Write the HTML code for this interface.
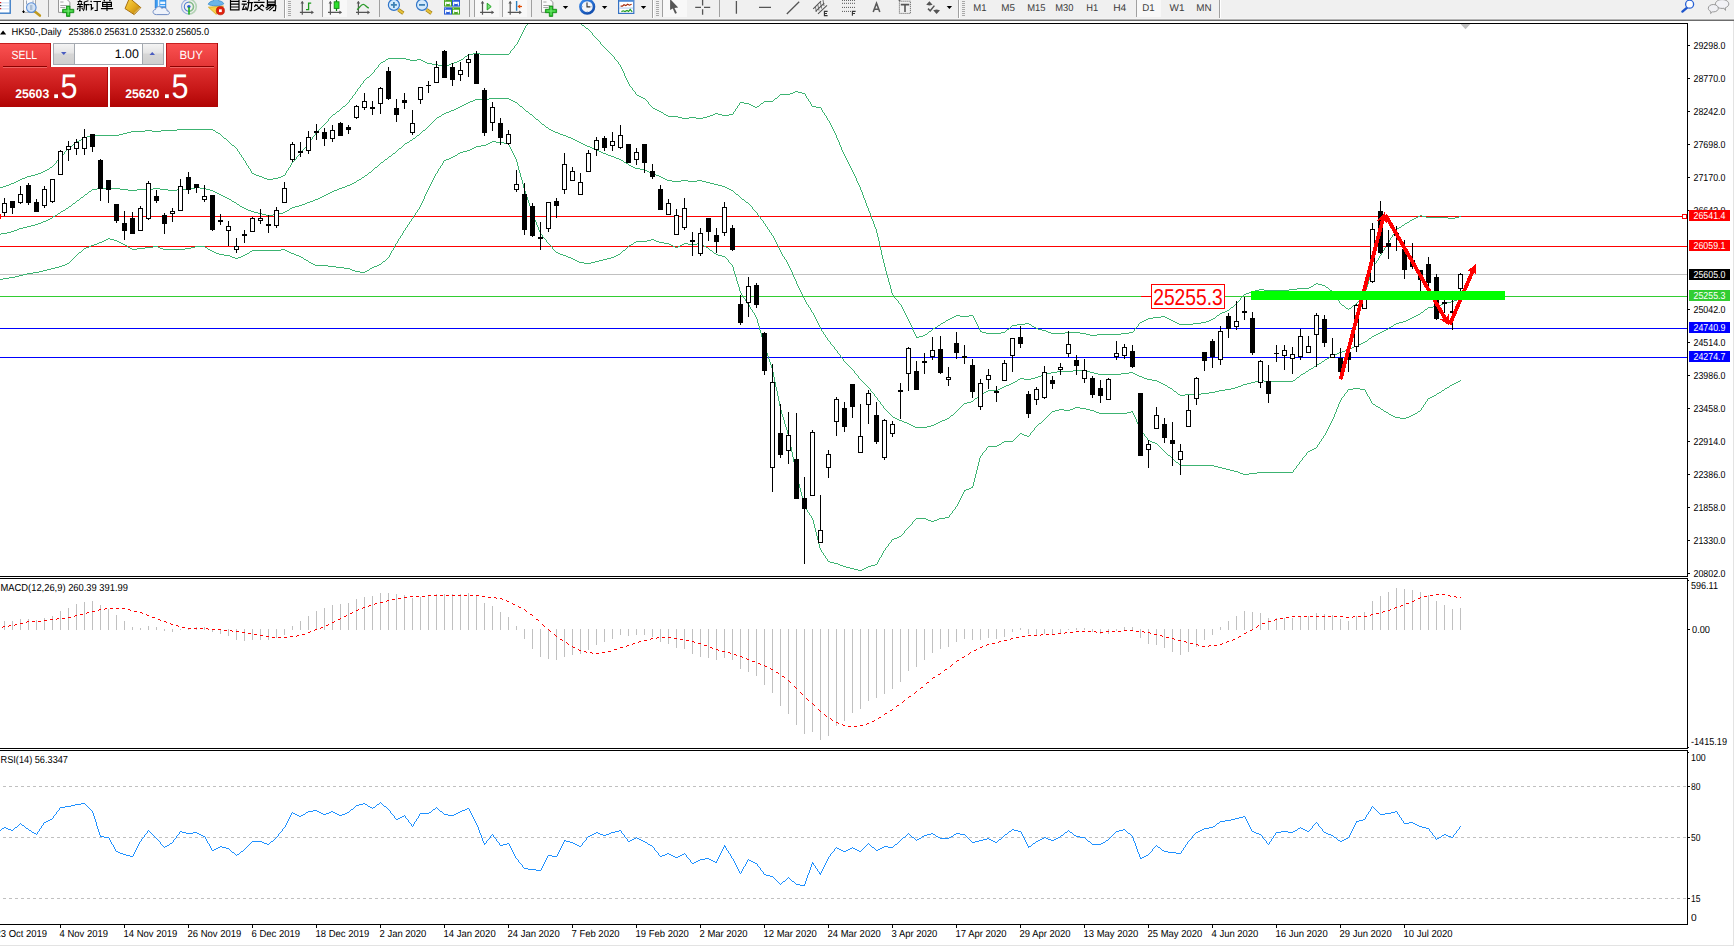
<!DOCTYPE html>
<html><head><meta charset="utf-8"><title>HK50 Daily</title>
<style>
html,body{margin:0;padding:0;background:#fff;}
body{width:1734px;height:946px;overflow:hidden;font-family:"Liberation Sans", sans-serif;}
svg{display:block;position:absolute;left:0;top:0;font-family:"Liberation Sans", sans-serif;text-rendering:geometricPrecision;}
</style></head><body>
<svg width="1734" height="946" viewBox="0 0 1734 946">
<rect width="1734" height="946" fill="#fff"/>

<g shape-rendering="crispEdges">
<rect x="0" y="0" width="1734" height="18" fill="#f0f0f0"/>
<rect x="0" y="18" width="1734" height="1" fill="#f4f4f4"/>
<rect x="0" y="19" width="1734" height="1" fill="#b4b4b4"/>
<rect x="0" y="20" width="1734" height="1" fill="#6c6c6c"/>
<rect x="0" y="23" width="1688" height="1" fill="#000"/>
<rect x="1687" y="23" width="1" height="902" fill="#000"/>
<rect x="0" y="924" width="1688" height="1" fill="#000"/>
<rect x="1733" y="21" width="1" height="925" fill="#e3e3e3"/>
<rect x="0" y="945" width="1734" height="1" fill="#e3e3e3"/>
<rect x="0" y="576" width="1688" height="1" fill="#000"/>
<rect x="0" y="578" width="1688" height="1" fill="#000"/>
<rect x="0" y="748" width="1688" height="1" fill="#000"/>
<rect x="0" y="750" width="1688" height="1" fill="#000"/>
<rect x="1687" y="577" width="1" height="1" fill="#fff"/>
<rect x="1687" y="749" width="1" height="1" fill="#fff"/>
<rect x="1688" y="580" width="1" height="1" fill="#000"/>
<rect x="1688" y="747" width="1" height="1" fill="#000"/>
<rect x="1688" y="752" width="1" height="1" fill="#000"/>
</g>
<g shape-rendering="crispEdges">
<rect x="0" y="216" width="1687" height="1" fill="#ff0000"/>
<rect x="0" y="246" width="1687" height="1" fill="#ff0000"/>
<rect x="0" y="274" width="1687" height="1" fill="#c0c0c0"/>
<rect x="0" y="296" width="1687" height="1" fill="#32cd32"/>
<rect x="0" y="328" width="1687" height="1" fill="#0000ff"/>
<rect x="0" y="357" width="1687" height="1" fill="#0000ff"/>
</g>
<clipPath id="mainclip"><rect x="0" y="24" width="1687" height="552"/></clipPath><g clip-path="url(#mainclip)">
<path d="M527 24h1v1h-1zM581 24h1v1h-1zM526 25h1v1h-1zM582 25h2v1h-2zM525 26h1v2h-1zM584 26h1v1h-1zM585 27h1v1h-1zM524 28h1v2h-1zM586 28h2v1h-2zM588 29h1v1h-1zM523 30h1v2h-1zM589 30h1v1h-1zM590 31h1v1h-1zM522 32h1v2h-1zM591 32h1v1h-1zM592 33h1v2h-1zM521 34h1v2h-1zM593 35h1v1h-1zM520 36h1v2h-1zM594 36h1v1h-1zM595 37h1v1h-1zM519 38h1v2h-1zM596 38h1v1h-1zM597 39h1v1h-1zM518 40h1v2h-1zM598 40h1v1h-1zM599 41h1v1h-1zM517 42h1v2h-1zM600 42h1v2h-1zM516 44h1v1h-1zM601 44h1v1h-1zM515 45h1v1h-1zM602 45h1v1h-1zM514 46h1v2h-1zM603 46h1v1h-1zM604 47h1v1h-1zM513 48h1v1h-1zM605 48h1v1h-1zM512 49h1v1h-1zM606 49h1v1h-1zM511 50h1v1h-1zM607 50h1v1h-1zM510 51h1v2h-1zM608 51h1v1h-1zM609 52h1v1h-1zM473 53h7v1h-7zM509 53h1v1h-1zM610 53h1v1h-1zM468 54h5v1h-5zM480 54h29v1h-29zM611 54h1v1h-1zM467 55h1v1h-1zM612 55h1v1h-1zM465 56h2v1h-2zM613 56h1v1h-1zM464 57h1v1h-1zM614 57h1v2h-1zM388 58h18v1h-18zM463 58h1v1h-1zM386 59h2v1h-2zM406 59h4v1h-4zM417 59h4v1h-4zM461 59h2v1h-2zM615 59h1v1h-1zM385 60h1v1h-1zM410 60h7v1h-7zM421 60h2v1h-2zM459 60h2v1h-2zM616 60h1v1h-1zM383 61h2v1h-2zM423 61h2v1h-2zM457 61h2v1h-2zM617 61h1v1h-1zM381 62h2v1h-2zM425 62h2v1h-2zM454 62h3v1h-3zM618 62h1v2h-1zM380 63h1v1h-1zM427 63h5v1h-5zM451 63h3v1h-3zM379 64h1v1h-1zM432 64h6v1h-6zM449 64h2v1h-2zM619 64h1v1h-1zM378 65h1v2h-1zM438 65h4v1h-4zM446 65h3v1h-3zM620 65h1v2h-1zM442 66h4v1h-4zM377 67h1v1h-1zM621 67h1v2h-1zM376 68h1v1h-1zM375 69h1v1h-1zM622 69h1v2h-1zM374 70h1v2h-1zM623 71h1v2h-1zM373 72h1v1h-1zM372 73h1v1h-1zM624 73h1v3h-1zM371 74h1v1h-1zM370 75h1v1h-1zM369 76h1v1h-1zM625 76h1v2h-1zM367 77h2v1h-2zM366 78h1v1h-1zM626 78h1v2h-1zM365 79h1v1h-1zM364 80h1v1h-1zM627 80h1v2h-1zM363 81h1v2h-1zM628 82h1v2h-1zM362 83h1v1h-1zM361 84h1v1h-1zM629 84h1v2h-1zM360 85h1v2h-1zM630 86h1v1h-1zM359 87h1v1h-1zM631 87h1v1h-1zM358 88h1v1h-1zM632 88h1v2h-1zM357 89h1v2h-1zM633 90h1v1h-1zM356 91h1v1h-1zM634 91h1v1h-1zM795 91h3v1h-3zM355 92h1v2h-1zM635 92h1v2h-1zM793 92h2v1h-2zM798 92h4v1h-4zM790 93h3v1h-3zM802 93h3v1h-3zM354 94h1v1h-1zM636 94h1v1h-1zM780 94h10v1h-10zM805 94h1v2h-1zM353 95h1v1h-1zM637 95h2v1h-2zM779 95h1v1h-1zM352 96h1v2h-1zM639 96h2v1h-2zM778 96h1v1h-1zM806 96h1v2h-1zM641 97h2v1h-2zM777 97h1v1h-1zM351 98h1v1h-1zM643 98h2v1h-2zM775 98h2v1h-2zM807 98h1v1h-1zM350 99h1v1h-1zM645 99h1v1h-1zM774 99h1v1h-1zM808 99h1v2h-1zM349 100h1v2h-1zM646 100h1v1h-1zM773 100h1v1h-1zM647 101h1v1h-1zM764 101h9v1h-9zM809 101h1v1h-1zM348 102h1v1h-1zM648 102h1v2h-1zM740 102h4v1h-4zM763 102h1v1h-1zM810 102h1v2h-1zM347 103h1v1h-1zM739 103h1v2h-1zM744 103h5v1h-5zM761 103h2v1h-2zM346 104h1v1h-1zM649 104h1v1h-1zM749 104h2v1h-2zM760 104h1v1h-1zM811 104h1v2h-1zM345 105h1v1h-1zM650 105h1v1h-1zM738 105h1v1h-1zM751 105h2v1h-2zM759 105h1v1h-1zM343 106h2v1h-2zM651 106h1v1h-1zM737 106h1v2h-1zM753 106h2v1h-2zM757 106h2v1h-2zM812 106h4v1h-4zM342 107h1v1h-1zM652 107h1v1h-1zM755 107h2v1h-2zM816 107h5v1h-5zM341 108h1v1h-1zM653 108h2v1h-2zM736 108h1v1h-1zM821 108h1v2h-1zM340 109h1v1h-1zM655 109h2v1h-2zM735 109h1v2h-1zM339 110h1v1h-1zM657 110h2v1h-2zM822 110h1v2h-1zM337 111h2v1h-2zM659 111h2v1h-2zM734 111h1v1h-1zM336 112h1v1h-1zM661 112h2v1h-2zM733 112h1v2h-1zM823 112h1v1h-1zM335 113h1v1h-1zM663 113h1v1h-1zM715 113h3v1h-3zM824 113h1v2h-1zM333 114h2v1h-2zM664 114h2v1h-2zM713 114h2v1h-2zM718 114h4v1h-4zM729 114h4v1h-4zM332 115h1v1h-1zM666 115h2v1h-2zM710 115h3v1h-3zM722 115h7v1h-7zM825 115h1v1h-1zM331 116h1v1h-1zM668 116h10v1h-10zM707 116h3v1h-3zM826 116h1v2h-1zM330 117h1v1h-1zM678 117h4v1h-4zM689 117h7v1h-7zM703 117h4v1h-4zM329 118h1v1h-1zM682 118h7v1h-7zM696 118h7v1h-7zM827 118h1v2h-1zM328 119h1v2h-1zM828 120h1v1h-1zM327 121h1v1h-1zM829 121h1v2h-1zM326 122h1v1h-1zM325 123h1v1h-1zM830 123h1v2h-1zM324 124h1v1h-1zM323 125h1v1h-1zM831 125h1v2h-1zM322 126h1v1h-1zM321 127h1v1h-1zM832 127h1v2h-1zM320 128h1v1h-1zM177 129h36v1h-36zM319 129h1v1h-1zM833 129h1v2h-1zM145 130h7v1h-7zM161 130h16v1h-16zM213 130h2v1h-2zM318 130h1v1h-1zM131 131h14v1h-14zM152 131h9v1h-9zM215 131h1v1h-1zM317 131h1v1h-1zM834 131h1v2h-1zM127 132h4v1h-4zM216 132h2v1h-2zM316 132h1v1h-1zM123 133h4v1h-4zM218 133h2v1h-2zM315 133h1v2h-1zM835 133h1v2h-1zM119 134h4v1h-4zM220 134h1v1h-1zM91 135h28v1h-28zM221 135h1v1h-1zM314 135h1v1h-1zM836 135h1v3h-1zM87 136h4v1h-4zM222 136h1v1h-1zM313 136h1v1h-1zM84 137h3v1h-3zM223 137h1v1h-1zM312 137h1v2h-1zM82 138h2v1h-2zM224 138h2v1h-2zM837 138h1v2h-1zM81 139h1v1h-1zM226 139h1v1h-1zM311 139h1v1h-1zM79 140h2v1h-2zM227 140h1v1h-1zM310 140h1v1h-1zM838 140h1v2h-1zM77 141h2v1h-2zM228 141h1v1h-1zM309 141h1v2h-1zM76 142h1v1h-1zM229 142h1v1h-1zM839 142h1v3h-1zM75 143h1v1h-1zM230 143h1v1h-1zM308 143h1v1h-1zM73 144h2v1h-2zM231 144h1v1h-1zM307 144h1v1h-1zM72 145h1v1h-1zM232 145h2v1h-2zM306 145h1v2h-1zM840 145h1v2h-1zM71 146h1v1h-1zM234 146h1v1h-1zM69 147h2v1h-2zM235 147h1v1h-1zM305 147h1v1h-1zM841 147h1v3h-1zM68 148h1v1h-1zM236 148h1v1h-1zM304 148h1v1h-1zM67 149h1v1h-1zM237 149h1v2h-1zM303 149h1v1h-1zM66 150h1v1h-1zM302 150h1v2h-1zM842 150h1v2h-1zM65 151h1v1h-1zM238 151h1v1h-1zM64 152h1v2h-1zM239 152h1v2h-1zM301 152h1v1h-1zM843 152h1v2h-1zM300 153h1v1h-1zM63 154h1v1h-1zM240 154h1v1h-1zM299 154h1v1h-1zM844 154h1v2h-1zM62 155h1v1h-1zM241 155h1v2h-1zM298 155h1v1h-1zM61 156h1v1h-1zM297 156h1v1h-1zM845 156h1v2h-1zM60 157h1v1h-1zM242 157h1v1h-1zM296 157h1v2h-1zM59 158h1v1h-1zM243 158h1v2h-1zM846 158h1v2h-1zM58 159h1v1h-1zM295 159h1v1h-1zM57 160h1v1h-1zM244 160h1v1h-1zM294 160h1v1h-1zM847 160h1v2h-1zM56 161h1v2h-1zM245 161h1v2h-1zM293 161h1v1h-1zM292 162h1v1h-1zM848 162h1v2h-1zM55 163h1v1h-1zM246 163h1v2h-1zM291 163h1v2h-1zM54 164h1v1h-1zM849 164h1v2h-1zM53 165h1v1h-1zM247 165h1v1h-1zM290 165h1v2h-1zM52 166h1v1h-1zM248 166h1v2h-1zM850 166h1v2h-1zM50 167h2v1h-2zM289 167h1v1h-1zM49 168h1v1h-1zM249 168h1v1h-1zM288 168h1v2h-1zM851 168h1v2h-1zM47 169h2v1h-2zM250 169h1v2h-1zM45 170h2v1h-2zM287 170h1v1h-1zM852 170h1v2h-1zM43 171h2v1h-2zM251 171h1v2h-1zM286 171h1v2h-1zM41 172h2v1h-2zM853 172h1v2h-1zM38 173h3v1h-3zM252 173h2v1h-2zM285 173h1v2h-1zM35 174h3v1h-3zM254 174h2v1h-2zM854 174h1v2h-1zM31 175h4v1h-4zM256 175h3v1h-3zM283 175h2v1h-2zM27 176h4v1h-4zM259 176h3v1h-3zM281 176h2v1h-2zM855 176h1v2h-1zM25 177h2v1h-2zM262 177h2v1h-2zM278 177h3v1h-3zM22 178h3v1h-3zM264 178h3v1h-3zM273 178h5v1h-5zM856 178h1v3h-1zM20 179h2v1h-2zM267 179h6v1h-6zM18 180h2v1h-2zM16 181h2v1h-2zM857 181h1v2h-1zM14 182h2v1h-2zM11 183h3v1h-3zM858 183h1v2h-1zM9 184h2v1h-2zM6 185h3v1h-3zM859 185h1v2h-1zM3 186h3v1h-3zM0 187h3v1h-3zM860 187h1v3h-1zM861 190h1v2h-1zM862 192h1v3h-1zM863 195h1v3h-1zM864 198h1v2h-1zM865 200h1v3h-1zM866 203h1v3h-1zM867 206h1v2h-1zM868 208h1v3h-1zM869 211h1v2h-1zM870 213h1v3h-1zM1420 215h2v1h-2zM871 216h1v3h-1zM1418 216h2v1h-2zM1422 216h4v1h-4zM1459 216h2v1h-2zM1416 217h2v1h-2zM1426 217h22v1h-22zM1455 217h4v1h-4zM1414 218h2v1h-2zM1448 218h7v1h-7zM872 219h1v2h-1zM1412 219h2v1h-2zM1410 220h2v1h-2zM873 221h1v3h-1zM1409 221h1v1h-1zM1407 222h2v1h-2zM1405 223h2v1h-2zM874 224h1v3h-1zM1404 224h1v1h-1zM1402 225h2v1h-2zM1401 226h1v1h-1zM875 227h1v2h-1zM1399 227h2v1h-2zM1397 228h2v1h-2zM876 229h1v4h-1zM1396 229h1v1h-1zM1395 230h1v2h-1zM1394 232h1v2h-1zM877 233h1v4h-1zM1393 234h1v1h-1zM1392 235h1v2h-1zM878 237h1v4h-1zM1391 237h1v1h-1zM1390 238h1v2h-1zM1389 240h1v2h-1zM879 241h1v5h-1zM1388 242h1v1h-1zM1387 243h1v2h-1zM1386 245h1v2h-1zM880 246h1v4h-1zM1385 247h1v1h-1zM1384 248h1v2h-1zM881 250h1v5h-1zM1383 250h1v1h-1zM1382 251h1v2h-1zM1381 253h1v2h-1zM882 255h1v4h-1zM1380 255h1v1h-1zM1379 256h1v2h-1zM1378 258h1v2h-1zM883 259h1v4h-1zM1377 260h1v1h-1zM1376 261h1v2h-1zM884 263h1v4h-1zM1375 263h1v1h-1zM1374 264h1v2h-1zM1373 266h1v2h-1zM885 267h1v4h-1zM1372 268h1v2h-1zM1371 270h1v4h-1zM886 271h1v4h-1zM1370 274h1v3h-1zM887 275h1v3h-1zM1369 277h1v3h-1zM888 278h1v4h-1zM1368 280h1v4h-1zM889 282h1v3h-1zM1316 283h2v1h-2zM1314 284h2v1h-2zM1318 284h4v1h-4zM1367 284h1v3h-1zM890 285h1v4h-1zM1313 285h1v1h-1zM1322 285h3v1h-3zM1311 286h2v1h-2zM1325 286h1v1h-1zM1309 287h2v1h-2zM1326 287h2v1h-2zM1366 287h1v3h-1zM1297 288h12v1h-12zM1328 288h1v1h-1zM891 289h1v4h-1zM1259 289h5v1h-5zM1289 289h8v1h-8zM1329 289h1v1h-1zM1255 290h4v1h-4zM1264 290h25v1h-25zM1330 290h2v1h-2zM1365 290h1v4h-1zM1251 291h4v1h-4zM1332 291h1v1h-1zM1249 292h2v1h-2zM1333 292h1v2h-1zM892 293h1v2h-1zM1246 293h3v1h-3zM1244 294h2v1h-2zM1334 294h1v1h-1zM1364 294h1v2h-1zM893 295h1v1h-1zM1243 295h1v1h-1zM1335 295h1v2h-1zM894 296h1v2h-1zM1242 296h1v1h-1zM1363 296h1v1h-1zM1241 297h1v1h-1zM1336 297h1v1h-1zM1362 297h1v1h-1zM895 298h1v1h-1zM1240 298h1v2h-1zM1337 298h1v2h-1zM1361 298h1v1h-1zM896 299h1v1h-1zM1360 299h1v1h-1zM897 300h1v1h-1zM1239 300h1v1h-1zM1338 300h1v1h-1zM1359 300h1v1h-1zM898 301h1v2h-1zM1238 301h1v1h-1zM1339 301h1v2h-1zM1358 301h1v1h-1zM1237 302h1v1h-1zM1357 302h1v1h-1zM899 303h1v1h-1zM1236 303h1v1h-1zM1340 303h1v1h-1zM1356 303h1v1h-1zM900 304h1v1h-1zM1235 304h1v1h-1zM1341 304h1v1h-1zM1355 304h1v1h-1zM901 305h1v2h-1zM1234 305h1v1h-1zM1342 305h2v1h-2zM1353 305h2v1h-2zM1233 306h1v1h-1zM1344 306h1v1h-1zM1352 306h1v1h-1zM902 307h1v2h-1zM1231 307h2v1h-2zM1345 307h1v1h-1zM1351 307h1v1h-1zM1230 308h1v1h-1zM1346 308h2v1h-2zM1349 308h2v1h-2zM903 309h1v2h-1zM1229 309h1v1h-1zM1348 309h1v1h-1zM1227 310h2v1h-2zM904 311h1v2h-1zM1225 311h2v1h-2zM1222 312h3v1h-3zM905 313h1v2h-1zM1220 313h2v1h-2zM1219 314h1v1h-1zM906 315h1v2h-1zM956 315h4v1h-4zM969 315h4v1h-4zM1217 315h2v1h-2zM954 316h2v1h-2zM960 316h9v1h-9zM973 316h1v2h-1zM1161 316h4v1h-4zM1216 316h1v1h-1zM907 317h1v2h-1zM952 317h2v1h-2zM1153 317h8v1h-8zM1165 317h2v1h-2zM1215 317h1v1h-1zM950 318h2v1h-2zM974 318h1v2h-1zM1148 318h5v1h-5zM1167 318h2v1h-2zM1213 318h2v1h-2zM908 319h1v2h-1zM948 319h2v1h-2zM1146 319h2v1h-2zM1169 319h2v1h-2zM1211 319h2v1h-2zM946 320h2v1h-2zM975 320h1v2h-1zM1144 320h2v1h-2zM1171 320h2v1h-2zM1209 320h2v1h-2zM909 321h1v2h-1zM945 321h1v1h-1zM1142 321h2v1h-2zM1173 321h2v1h-2zM1206 321h3v1h-3zM943 322h2v1h-2zM976 322h1v2h-1zM1140 322h2v1h-2zM1175 322h2v1h-2zM1201 322h5v1h-5zM910 323h1v2h-1zM941 323h2v1h-2zM1025 323h4v1h-4zM1139 323h1v1h-1zM1177 323h2v1h-2zM1193 323h8v1h-8zM940 324h1v1h-1zM977 324h1v2h-1zM1017 324h8v1h-8zM1029 324h2v1h-2zM1138 324h1v2h-1zM1179 324h14v1h-14zM911 325h1v2h-1zM938 325h2v1h-2zM1012 325h5v1h-5zM1031 325h1v1h-1zM937 326h1v1h-1zM978 326h1v2h-1zM1011 326h1v1h-1zM1032 326h2v1h-2zM1137 326h1v1h-1zM912 327h1v3h-1zM935 327h2v1h-2zM1010 327h1v1h-1zM1034 327h2v1h-2zM1136 327h1v1h-1zM933 328h2v1h-2zM979 328h1v2h-1zM1009 328h1v1h-1zM1036 328h2v1h-2zM1135 328h1v1h-1zM932 329h1v1h-1zM1007 329h2v1h-2zM1038 329h4v1h-4zM1134 329h1v2h-1zM913 330h1v2h-1zM931 330h1v1h-1zM980 330h1v2h-1zM1006 330h1v1h-1zM1042 330h4v1h-4zM929 331h2v1h-2zM981 331h1v1h-1zM1005 331h1v1h-1zM1046 331h2v1h-2zM1133 331h1v1h-1zM914 332h1v2h-1zM928 332h1v1h-1zM982 332h4v1h-4zM1001 332h4v1h-4zM1048 332h3v1h-3zM1065 332h15v1h-15zM1129 332h4v1h-4zM927 333h1v1h-1zM986 333h15v1h-15zM1051 333h14v1h-14zM1080 333h6v1h-6zM1121 333h8v1h-8zM915 334h1v2h-1zM925 334h2v1h-2zM1086 334h4v1h-4zM1097 334h24v1h-24zM923 335h2v1h-2zM1090 335h7v1h-7zM916 336h1v2h-1zM919 336h4v1h-4zM917 337h2v1h-2z" fill="#3cb371" shape-rendering="crispEdges"/>
<path d="M489 98h20v1h-20zM475 99h14v1h-14zM509 99h2v1h-2zM473 100h2v1h-2zM511 100h2v1h-2zM470 101h3v1h-3zM513 101h2v1h-2zM468 102h2v1h-2zM515 102h2v1h-2zM466 103h2v1h-2zM517 103h1v1h-1zM464 104h2v1h-2zM518 104h1v1h-1zM462 105h2v1h-2zM519 105h1v1h-1zM460 106h2v1h-2zM520 106h2v1h-2zM458 107h2v1h-2zM522 107h1v1h-1zM456 108h2v1h-2zM523 108h1v1h-1zM454 109h2v1h-2zM524 109h1v1h-1zM451 110h3v1h-3zM525 110h1v1h-1zM449 111h2v1h-2zM526 111h2v1h-2zM446 112h3v1h-3zM528 112h1v1h-1zM444 113h2v1h-2zM529 113h1v1h-1zM442 114h2v1h-2zM530 114h2v1h-2zM441 115h1v1h-1zM532 115h1v1h-1zM439 116h2v1h-2zM533 116h1v1h-1zM437 117h2v1h-2zM534 117h1v1h-1zM436 118h1v1h-1zM535 118h1v1h-1zM435 119h1v1h-1zM536 119h2v1h-2zM434 120h1v1h-1zM538 120h1v1h-1zM433 121h1v1h-1zM539 121h1v1h-1zM432 122h1v1h-1zM540 122h1v1h-1zM431 123h1v1h-1zM541 123h1v1h-1zM430 124h1v1h-1zM542 124h2v1h-2zM429 125h1v1h-1zM544 125h1v1h-1zM428 126h1v1h-1zM545 126h1v1h-1zM427 127h1v1h-1zM546 127h2v1h-2zM426 128h1v1h-1zM548 128h1v1h-1zM425 129h1v1h-1zM549 129h2v1h-2zM423 130h2v1h-2zM551 130h2v1h-2zM422 131h1v1h-1zM553 131h2v1h-2zM421 132h1v1h-1zM555 132h3v1h-3zM420 133h1v1h-1zM558 133h2v1h-2zM419 134h1v1h-1zM560 134h3v1h-3zM417 135h2v1h-2zM563 135h3v1h-3zM416 136h1v1h-1zM566 136h2v1h-2zM415 137h1v1h-1zM568 137h3v1h-3zM413 138h2v1h-2zM571 138h2v1h-2zM412 139h1v1h-1zM573 139h2v1h-2zM410 140h2v1h-2zM575 140h2v1h-2zM409 141h1v1h-1zM577 141h2v1h-2zM407 142h2v1h-2zM579 142h2v1h-2zM405 143h2v1h-2zM581 143h2v1h-2zM404 144h1v1h-1zM583 144h2v1h-2zM403 145h1v1h-1zM585 145h2v1h-2zM402 146h1v1h-1zM587 146h3v1h-3zM401 147h1v1h-1zM590 147h2v1h-2zM399 148h2v1h-2zM592 148h3v1h-3zM398 149h1v1h-1zM595 149h2v1h-2zM397 150h1v1h-1zM597 150h2v1h-2zM396 151h1v1h-1zM599 151h2v1h-2zM395 152h1v1h-1zM601 152h2v1h-2zM393 153h2v1h-2zM603 153h3v1h-3zM392 154h1v1h-1zM606 154h2v1h-2zM391 155h1v1h-1zM608 155h3v1h-3zM389 156h2v1h-2zM611 156h3v1h-3zM388 157h1v1h-1zM614 157h2v1h-2zM387 158h1v1h-1zM616 158h3v1h-3zM385 159h2v1h-2zM619 159h2v1h-2zM384 160h1v1h-1zM621 160h2v1h-2zM383 161h1v1h-1zM623 161h1v1h-1zM381 162h2v1h-2zM624 162h2v1h-2zM380 163h1v1h-1zM626 163h2v1h-2zM379 164h1v1h-1zM628 164h1v1h-1zM378 165h1v1h-1zM629 165h2v1h-2zM377 166h1v1h-1zM631 166h2v1h-2zM375 167h2v1h-2zM633 167h2v1h-2zM374 168h1v1h-1zM635 168h5v1h-5zM373 169h1v1h-1zM640 169h5v1h-5zM372 170h1v1h-1zM645 170h2v1h-2zM371 171h1v1h-1zM647 171h2v1h-2zM369 172h2v1h-2zM649 172h2v1h-2zM368 173h1v1h-1zM651 173h3v1h-3zM367 174h1v1h-1zM654 174h2v1h-2zM365 175h2v1h-2zM656 175h3v1h-3zM364 176h1v1h-1zM659 176h2v1h-2zM362 177h2v1h-2zM661 177h2v1h-2zM361 178h1v1h-1zM663 178h2v1h-2zM359 179h2v1h-2zM665 179h2v1h-2zM357 180h2v1h-2zM667 180h5v1h-5zM681 180h7v1h-7zM697 180h5v1h-5zM356 181h1v1h-1zM672 181h9v1h-9zM688 181h9v1h-9zM702 181h4v1h-4zM354 182h2v1h-2zM706 182h4v1h-4zM352 183h2v1h-2zM710 183h4v1h-4zM350 184h2v1h-2zM714 184h4v1h-4zM347 185h3v1h-3zM718 185h4v1h-4zM345 186h2v1h-2zM722 186h3v1h-3zM195 187h5v1h-5zM342 187h3v1h-3zM725 187h2v1h-2zM97 188h23v1h-23zM153 188h7v1h-7zM191 188h4v1h-4zM200 188h6v1h-6zM339 188h3v1h-3zM727 188h2v1h-2zM92 189h5v1h-5zM120 189h8v1h-8zM137 189h16v1h-16zM160 189h8v1h-8zM177 189h14v1h-14zM206 189h4v1h-4zM337 189h2v1h-2zM729 189h2v1h-2zM91 190h1v1h-1zM128 190h9v1h-9zM168 190h9v1h-9zM210 190h3v1h-3zM334 190h3v1h-3zM731 190h2v1h-2zM89 191h2v1h-2zM213 191h2v1h-2zM332 191h2v1h-2zM733 191h1v1h-1zM88 192h1v1h-1zM215 192h2v1h-2zM330 192h2v1h-2zM734 192h1v1h-1zM87 193h1v1h-1zM217 193h2v1h-2zM328 193h2v1h-2zM735 193h1v1h-1zM85 194h2v1h-2zM219 194h2v1h-2zM326 194h2v1h-2zM736 194h2v1h-2zM84 195h1v1h-1zM221 195h2v1h-2zM324 195h2v1h-2zM738 195h1v1h-1zM83 196h1v1h-1zM223 196h2v1h-2zM322 196h2v1h-2zM739 196h1v1h-1zM81 197h2v1h-2zM225 197h2v1h-2zM320 197h2v1h-2zM740 197h1v1h-1zM80 198h1v1h-1zM227 198h2v1h-2zM318 198h2v1h-2zM741 198h1v1h-1zM79 199h1v1h-1zM229 199h2v1h-2zM315 199h3v1h-3zM742 199h2v1h-2zM77 200h2v1h-2zM231 200h1v1h-1zM313 200h2v1h-2zM744 200h1v1h-1zM76 201h1v1h-1zM232 201h2v1h-2zM310 201h3v1h-3zM745 201h1v1h-1zM75 202h1v1h-1zM234 202h2v1h-2zM307 202h3v1h-3zM746 202h2v1h-2zM73 203h2v1h-2zM236 203h1v1h-1zM305 203h2v1h-2zM748 203h1v1h-1zM72 204h1v1h-1zM237 204h2v1h-2zM302 204h3v1h-3zM749 204h1v1h-1zM71 205h1v1h-1zM239 205h1v1h-1zM299 205h3v1h-3zM750 205h1v1h-1zM69 206h2v1h-2zM240 206h2v1h-2zM295 206h4v1h-4zM751 206h1v1h-1zM68 207h1v1h-1zM242 207h2v1h-2zM292 207h3v1h-3zM752 207h1v2h-1zM66 208h2v1h-2zM244 208h2v1h-2zM290 208h2v1h-2zM65 209h1v1h-1zM246 209h2v1h-2zM289 209h1v1h-1zM753 209h1v1h-1zM63 210h2v1h-2zM248 210h3v1h-3zM287 210h2v1h-2zM754 210h1v1h-1zM61 211h2v1h-2zM251 211h3v1h-3zM285 211h2v1h-2zM755 211h1v1h-1zM60 212h1v1h-1zM254 212h4v1h-4zM283 212h2v1h-2zM756 212h1v1h-1zM58 213h2v1h-2zM258 213h4v1h-4zM279 213h4v1h-4zM757 213h1v2h-1zM57 214h1v1h-1zM262 214h4v1h-4zM273 214h6v1h-6zM55 215h2v1h-2zM266 215h7v1h-7zM758 215h1v1h-1zM53 216h2v1h-2zM759 216h1v1h-1zM52 217h1v1h-1zM760 217h1v2h-1zM50 218h2v1h-2zM48 219h2v1h-2zM761 219h1v1h-1zM46 220h2v1h-2zM762 220h1v1h-1zM43 221h3v1h-3zM763 221h1v2h-1zM41 222h2v1h-2zM38 223h3v1h-3zM764 223h1v1h-1zM35 224h3v1h-3zM765 224h1v2h-1zM31 225h4v1h-4zM27 226h4v1h-4zM766 226h1v1h-1zM23 227h4v1h-4zM767 227h1v2h-1zM19 228h4v1h-4zM17 229h2v1h-2zM768 229h1v1h-1zM14 230h3v1h-3zM769 230h1v2h-1zM11 231h3v1h-3zM7 232h4v1h-4zM770 232h1v1h-1zM1 233h6v1h-6zM771 233h1v2h-1zM0 234h1v1h-1zM772 235h1v1h-1zM773 236h1v2h-1zM774 238h1v2h-1zM775 240h1v2h-1zM776 242h1v2h-1zM777 244h1v2h-1zM778 246h1v2h-1zM779 248h1v2h-1zM780 250h1v2h-1zM781 252h1v2h-1zM782 254h1v2h-1zM783 256h1v1h-1zM784 257h1v2h-1zM785 259h1v1h-1zM786 260h1v2h-1zM787 262h1v2h-1zM788 264h1v2h-1zM789 266h1v2h-1zM790 268h1v2h-1zM791 270h1v2h-1zM792 272h1v3h-1zM793 275h1v2h-1zM794 277h1v2h-1zM795 279h1v2h-1zM796 281h1v3h-1zM797 284h1v2h-1zM798 286h1v2h-1zM799 288h1v2h-1zM800 290h1v2h-1zM801 292h1v2h-1zM802 294h1v2h-1zM803 296h1v2h-1zM804 298h1v2h-1zM1459 298h2v1h-2zM1457 299h2v1h-2zM805 300h1v2h-1zM1454 300h3v1h-3zM1451 301h3v1h-3zM806 302h1v2h-1zM1447 302h4v1h-4zM1443 303h4v1h-4zM807 304h1v1h-1zM1441 304h2v1h-2zM808 305h1v2h-1zM1438 305h3v1h-3zM1433 306h5v1h-5zM809 307h1v1h-1zM1428 307h5v1h-5zM810 308h1v2h-1zM1427 308h1v1h-1zM1425 309h2v1h-2zM811 310h1v2h-1zM1424 310h1v1h-1zM1423 311h1v1h-1zM812 312h1v1h-1zM1421 312h2v1h-2zM813 313h1v2h-1zM1420 313h1v1h-1zM1418 314h2v1h-2zM814 315h1v2h-1zM1416 315h2v1h-2zM1414 316h2v1h-2zM815 317h1v2h-1zM1412 317h2v1h-2zM1410 318h2v1h-2zM816 319h1v2h-1zM1408 319h2v1h-2zM1406 320h2v1h-2zM817 321h1v2h-1zM1403 321h3v1h-3zM1399 322h4v1h-4zM818 323h1v2h-1zM1396 323h3v1h-3zM1394 324h2v1h-2zM819 325h1v2h-1zM1393 325h1v1h-1zM1391 326h2v1h-2zM820 327h1v2h-1zM1389 327h2v1h-2zM1388 328h1v1h-1zM821 329h1v2h-1zM1386 329h2v1h-2zM1384 330h2v1h-2zM822 331h1v1h-1zM1382 331h2v1h-2zM823 332h1v2h-1zM1380 332h2v1h-2zM1378 333h2v1h-2zM824 334h1v1h-1zM1376 334h2v1h-2zM825 335h1v2h-1zM1374 335h2v1h-2zM1372 336h2v1h-2zM826 337h1v1h-1zM1371 337h1v1h-1zM827 338h1v2h-1zM1369 338h2v1h-2zM1368 339h1v1h-1zM828 340h1v1h-1zM1367 340h1v1h-1zM829 341h1v1h-1zM1365 341h2v1h-2zM830 342h1v2h-1zM1363 342h2v1h-2zM1361 343h2v1h-2zM831 344h1v1h-1zM1358 344h3v1h-3zM832 345h1v1h-1zM1356 345h2v1h-2zM833 346h1v1h-1zM1354 346h2v1h-2zM834 347h1v2h-1zM1352 347h2v1h-2zM1350 348h2v1h-2zM835 349h1v1h-1zM1347 349h3v1h-3zM836 350h1v1h-1zM1345 350h2v1h-2zM837 351h1v2h-1zM1342 351h3v1h-3zM1339 352h3v1h-3zM838 353h1v1h-1zM1337 353h2v1h-2zM839 354h1v1h-1zM1334 354h3v1h-3zM840 355h1v2h-1zM1332 355h2v1h-2zM1330 356h2v1h-2zM841 357h1v1h-1zM1329 357h1v1h-1zM842 358h1v1h-1zM1327 358h2v1h-2zM843 359h1v2h-1zM1325 359h2v1h-2zM1324 360h1v1h-1zM844 361h1v1h-1zM1322 361h2v1h-2zM845 362h1v1h-1zM1321 362h1v1h-1zM846 363h1v1h-1zM1319 363h2v1h-2zM847 364h1v1h-1zM1317 364h2v1h-2zM848 365h1v1h-1zM1316 365h1v1h-1zM849 366h1v1h-1zM1314 366h2v1h-2zM850 367h1v1h-1zM1313 367h1v1h-1zM851 368h1v1h-1zM1311 368h2v1h-2zM852 369h1v1h-1zM1309 369h2v1h-2zM853 370h1v1h-1zM1073 370h13v1h-13zM1308 370h1v1h-1zM854 371h1v2h-1zM1057 371h16v1h-16zM1086 371h4v1h-4zM1306 371h2v1h-2zM1051 372h6v1h-6zM1090 372h4v1h-4zM1129 372h4v1h-4zM1305 372h1v1h-1zM855 373h1v1h-1zM1047 373h4v1h-4zM1094 373h4v1h-4zM1121 373h8v1h-8zM1133 373h2v1h-2zM1303 373h2v1h-2zM856 374h1v1h-1zM1043 374h4v1h-4zM1098 374h23v1h-23zM1135 374h2v1h-2zM1301 374h2v1h-2zM857 375h1v1h-1zM1041 375h2v1h-2zM1137 375h2v1h-2zM1300 375h1v1h-1zM858 376h1v2h-1zM1038 376h3v1h-3zM1139 376h3v1h-3zM1299 376h1v1h-1zM1035 377h3v1h-3zM1142 377h2v1h-2zM1297 377h2v1h-2zM859 378h1v1h-1zM1020 378h4v1h-4zM1031 378h4v1h-4zM1144 378h3v1h-3zM1296 378h1v1h-1zM860 379h1v1h-1zM1018 379h2v1h-2zM1024 379h7v1h-7zM1147 379h5v1h-5zM1295 379h1v1h-1zM861 380h1v1h-1zM1017 380h1v1h-1zM1152 380h5v1h-5zM1259 380h5v1h-5zM1293 380h2v1h-2zM862 381h1v1h-1zM1015 381h2v1h-2zM1157 381h2v1h-2zM1255 381h4v1h-4zM1264 381h29v1h-29zM863 382h1v1h-1zM1013 382h2v1h-2zM1159 382h2v1h-2zM1251 382h4v1h-4zM864 383h1v1h-1zM1011 383h2v1h-2zM1161 383h2v1h-2zM1247 383h4v1h-4zM865 384h1v1h-1zM1009 384h2v1h-2zM1163 384h2v1h-2zM1243 384h4v1h-4zM866 385h1v1h-1zM1006 385h3v1h-3zM1165 385h2v1h-2zM1241 385h2v1h-2zM867 386h1v1h-1zM1004 386h2v1h-2zM1167 386h1v1h-1zM1238 386h3v1h-3zM868 387h1v1h-1zM1002 387h2v1h-2zM1168 387h2v1h-2zM1235 387h3v1h-3zM869 388h1v1h-1zM1000 388h2v1h-2zM1170 388h2v1h-2zM1231 388h4v1h-4zM870 389h1v2h-1zM998 389h2v1h-2zM1172 389h1v1h-1zM1225 389h6v1h-6zM988 390h10v1h-10zM1173 390h1v1h-1zM1219 390h6v1h-6zM871 391h1v1h-1zM986 391h2v1h-2zM1174 391h2v1h-2zM1215 391h4v1h-4zM872 392h1v1h-1zM984 392h2v1h-2zM1176 392h1v1h-1zM1209 392h6v1h-6zM873 393h1v1h-1zM982 393h2v1h-2zM1177 393h1v1h-1zM1201 393h8v1h-8zM874 394h1v2h-1zM980 394h2v1h-2zM1178 394h2v1h-2zM1185 394h16v1h-16zM979 395h1v1h-1zM1180 395h5v1h-5zM875 396h1v1h-1zM978 396h1v1h-1zM876 397h1v1h-1zM977 397h1v1h-1zM877 398h1v2h-1zM975 398h2v1h-2zM974 399h1v1h-1zM878 400h1v1h-1zM973 400h1v1h-1zM879 401h1v1h-1zM971 401h2v1h-2zM880 402h1v2h-1zM967 402h4v1h-4zM964 403h3v1h-3zM881 404h1v1h-1zM963 404h1v1h-1zM882 405h1v1h-1zM962 405h1v1h-1zM883 406h1v2h-1zM961 406h1v1h-1zM960 407h1v1h-1zM884 408h1v1h-1zM959 408h1v1h-1zM885 409h1v1h-1zM958 409h1v1h-1zM886 410h1v1h-1zM957 410h1v1h-1zM887 411h1v1h-1zM956 411h1v1h-1zM888 412h1v1h-1zM955 412h1v1h-1zM889 413h1v1h-1zM954 413h1v1h-1zM890 414h1v1h-1zM953 414h1v1h-1zM891 415h1v1h-1zM951 415h2v1h-2zM892 416h1v1h-1zM950 416h1v1h-1zM893 417h2v1h-2zM949 417h1v1h-1zM895 418h2v1h-2zM947 418h2v1h-2zM897 419h2v1h-2zM945 419h2v1h-2zM899 420h3v1h-3zM942 420h3v1h-3zM902 421h2v1h-2zM940 421h2v1h-2zM904 422h3v1h-3zM938 422h2v1h-2zM907 423h2v1h-2zM936 423h2v1h-2zM909 424h2v1h-2zM934 424h2v1h-2zM911 425h2v1h-2zM931 425h3v1h-3zM913 426h2v1h-2zM927 426h4v1h-4zM915 427h12v1h-12z" fill="#3cb371" shape-rendering="crispEdges"/>
<path d="M492 141h4v1h-4zM490 142h2v1h-2zM496 142h8v1h-8zM488 143h2v1h-2zM504 143h5v1h-5zM486 144h2v1h-2zM508 144h1v1h-1zM481 145h5v1h-5zM509 145h1v2h-1zM476 146h5v1h-5zM474 147h2v1h-2zM510 147h1v2h-1zM472 148h2v1h-2zM470 149h2v1h-2zM511 149h1v2h-1zM467 150h3v1h-3zM463 151h4v1h-4zM512 151h1v2h-1zM460 152h3v1h-3zM458 153h2v1h-2zM513 153h1v2h-1zM457 154h1v1h-1zM455 155h2v1h-2zM514 155h1v2h-1zM453 156h2v1h-2zM451 157h2v1h-2zM515 157h1v2h-1zM449 158h2v1h-2zM446 159h3v1h-3zM516 159h1v3h-1zM444 160h2v1h-2zM443 161h1v2h-1zM517 162h1v4h-1zM442 163h1v2h-1zM441 165h1v1h-1zM440 166h1v2h-1zM518 166h1v4h-1zM439 168h1v1h-1zM438 169h1v2h-1zM519 170h1v3h-1zM437 171h1v2h-1zM436 173h1v1h-1zM520 173h1v4h-1zM435 174h1v2h-1zM434 176h1v2h-1zM521 177h1v3h-1zM433 178h1v2h-1zM432 180h1v2h-1zM522 180h1v4h-1zM431 182h1v2h-1zM430 184h1v2h-1zM523 184h1v4h-1zM429 186h1v2h-1zM428 188h1v2h-1zM524 188h1v3h-1zM427 190h1v2h-1zM525 191h1v3h-1zM426 192h1v2h-1zM425 194h1v2h-1zM526 194h1v3h-1zM424 196h1v3h-1zM527 197h1v3h-1zM423 199h1v2h-1zM528 200h1v3h-1zM422 201h1v2h-1zM421 203h1v2h-1zM529 203h1v3h-1zM420 205h1v2h-1zM530 206h1v3h-1zM419 207h1v2h-1zM418 209h1v1h-1zM531 209h1v3h-1zM417 210h1v2h-1zM416 212h1v1h-1zM532 212h1v3h-1zM415 213h1v2h-1zM414 215h1v1h-1zM533 215h1v2h-1zM413 216h1v2h-1zM534 217h1v3h-1zM412 218h1v1h-1zM411 219h1v2h-1zM535 220h1v2h-1zM410 221h1v1h-1zM409 222h1v2h-1zM536 222h1v3h-1zM408 224h1v1h-1zM407 225h1v2h-1zM537 225h1v2h-1zM406 227h1v1h-1zM538 227h1v3h-1zM405 228h1v2h-1zM404 230h1v1h-1zM539 230h1v2h-1zM403 231h1v2h-1zM540 232h1v2h-1zM402 233h1v2h-1zM541 234h1v1h-1zM401 235h1v1h-1zM542 235h1v2h-1zM400 236h1v2h-1zM543 237h1v1h-1zM108 238h2v1h-2zM399 238h1v1h-1zM544 238h1v1h-1zM106 239h2v1h-2zM110 239h4v1h-4zM398 239h1v2h-1zM545 239h1v1h-1zM651 239h3v1h-3zM104 240h2v1h-2zM114 240h3v1h-3zM546 240h1v2h-1zM647 240h4v1h-4zM654 240h2v1h-2zM102 241h2v1h-2zM117 241h2v1h-2zM397 241h1v2h-1zM636 241h11v1h-11zM656 241h3v1h-3zM99 242h3v1h-3zM119 242h2v1h-2zM547 242h1v1h-1zM634 242h2v1h-2zM659 242h5v1h-5zM97 243h2v1h-2zM121 243h2v1h-2zM396 243h1v1h-1zM548 243h1v1h-1zM633 243h1v1h-1zM664 243h5v1h-5zM684 243h4v1h-4zM697 243h4v1h-4zM94 244h3v1h-3zM123 244h2v1h-2zM395 244h1v2h-1zM549 244h1v1h-1zM631 244h2v1h-2zM669 244h2v1h-2zM682 244h2v1h-2zM688 244h9v1h-9zM701 244h2v1h-2zM91 245h3v1h-3zM125 245h2v1h-2zM550 245h1v1h-1zM629 245h2v1h-2zM671 245h2v1h-2zM680 245h2v1h-2zM703 245h1v1h-1zM89 246h2v1h-2zM127 246h1v1h-1zM153 246h5v1h-5zM195 246h10v1h-10zM394 246h1v2h-1zM551 246h1v1h-1zM628 246h1v1h-1zM673 246h2v1h-2zM678 246h2v1h-2zM704 246h2v1h-2zM86 247h3v1h-3zM128 247h2v1h-2zM145 247h8v1h-8zM158 247h2v1h-2zM191 247h4v1h-4zM205 247h2v1h-2zM552 247h1v2h-1zM627 247h1v1h-1zM675 247h3v1h-3zM706 247h2v1h-2zM84 248h2v1h-2zM130 248h2v1h-2zM137 248h8v1h-8zM160 248h3v1h-3zM185 248h6v1h-6zM207 248h1v1h-1zM393 248h1v2h-1zM626 248h1v1h-1zM708 248h1v1h-1zM83 249h1v1h-1zM132 249h5v1h-5zM163 249h22v1h-22zM208 249h2v1h-2zM281 249h4v1h-4zM553 249h1v1h-1zM625 249h1v1h-1zM709 249h1v1h-1zM82 250h1v1h-1zM210 250h2v1h-2zM252 250h29v1h-29zM285 250h2v1h-2zM392 250h1v1h-1zM554 250h1v1h-1zM623 250h2v1h-2zM710 250h2v1h-2zM81 251h1v1h-1zM212 251h2v1h-2zM250 251h2v1h-2zM287 251h2v1h-2zM391 251h1v2h-1zM555 251h1v1h-1zM622 251h1v1h-1zM712 251h1v1h-1zM79 252h2v1h-2zM214 252h2v1h-2zM249 252h1v1h-1zM289 252h2v1h-2zM556 252h2v1h-2zM621 252h1v1h-1zM713 252h1v1h-1zM78 253h1v1h-1zM216 253h3v1h-3zM247 253h2v1h-2zM291 253h3v1h-3zM390 253h1v2h-1zM558 253h2v1h-2zM620 253h1v1h-1zM714 253h2v1h-2zM77 254h1v1h-1zM219 254h5v1h-5zM245 254h2v1h-2zM294 254h2v1h-2zM560 254h3v1h-3zM618 254h2v1h-2zM716 254h2v1h-2zM76 255h1v1h-1zM224 255h6v1h-6zM243 255h2v1h-2zM296 255h3v1h-3zM389 255h1v2h-1zM563 255h3v1h-3zM616 255h2v1h-2zM718 255h4v1h-4zM75 256h1v1h-1zM230 256h2v1h-2zM241 256h2v1h-2zM299 256h2v1h-2zM566 256h2v1h-2zM614 256h2v1h-2zM722 256h3v1h-3zM74 257h1v1h-1zM232 257h3v1h-3zM238 257h3v1h-3zM301 257h2v1h-2zM388 257h1v1h-1zM568 257h3v1h-3zM611 257h3v1h-3zM725 257h1v1h-1zM73 258h1v1h-1zM235 258h3v1h-3zM303 258h1v1h-1zM387 258h1v1h-1zM571 258h2v1h-2zM607 258h4v1h-4zM726 258h1v1h-1zM72 259h1v1h-1zM304 259h2v1h-2zM386 259h1v1h-1zM573 259h2v1h-2zM603 259h4v1h-4zM727 259h1v1h-1zM71 260h1v1h-1zM306 260h2v1h-2zM385 260h1v1h-1zM575 260h2v1h-2zM599 260h4v1h-4zM728 260h1v2h-1zM70 261h1v1h-1zM308 261h1v1h-1zM383 261h2v1h-2zM577 261h2v1h-2zM595 261h4v1h-4zM69 262h1v1h-1zM309 262h2v1h-2zM382 262h1v1h-1zM579 262h5v1h-5zM591 262h4v1h-4zM729 262h1v1h-1zM67 263h2v1h-2zM311 263h2v1h-2zM381 263h1v1h-1zM584 263h7v1h-7zM730 263h1v1h-1zM65 264h2v1h-2zM313 264h2v1h-2zM379 264h2v1h-2zM731 264h1v1h-1zM62 265h3v1h-3zM315 265h13v1h-13zM377 265h2v1h-2zM732 265h1v2h-1zM59 266h3v1h-3zM328 266h8v1h-8zM374 266h3v1h-3zM55 267h4v1h-4zM336 267h8v1h-8zM372 267h2v1h-2zM733 267h1v4h-1zM51 268h4v1h-4zM344 268h6v1h-6zM370 268h2v1h-2zM47 269h4v1h-4zM350 269h2v1h-2zM369 269h1v1h-1zM43 270h4v1h-4zM352 270h3v1h-3zM367 270h2v1h-2zM39 271h4v1h-4zM355 271h5v1h-5zM365 271h2v1h-2zM734 271h1v3h-1zM33 272h6v1h-6zM360 272h5v1h-5zM27 273h6v1h-6zM23 274h4v1h-4zM735 274h1v3h-1zM19 275h4v1h-4zM15 276h4v1h-4zM9 277h6v1h-6zM736 277h1v4h-1zM3 278h6v1h-6zM0 279h3v1h-3zM737 281h1v3h-1zM738 284h1v3h-1zM739 287h1v4h-1zM740 291h1v2h-1zM741 293h1v2h-1zM742 295h1v1h-1zM743 296h1v2h-1zM744 298h1v1h-1zM745 299h1v2h-1zM746 301h1v1h-1zM747 302h1v2h-1zM748 304h1v1h-1zM749 305h1v2h-1zM750 307h1v2h-1zM751 309h1v1h-1zM752 310h1v2h-1zM753 312h1v1h-1zM754 313h1v2h-1zM755 315h1v2h-1zM756 317h1v2h-1zM757 319h1v4h-1zM758 323h1v3h-1zM759 326h1v4h-1zM760 330h1v3h-1zM761 333h1v4h-1zM762 337h1v3h-1zM763 340h1v4h-1zM764 344h1v3h-1zM765 347h1v3h-1zM766 350h1v3h-1zM767 353h1v3h-1zM768 356h1v3h-1zM769 359h1v3h-1zM770 362h1v3h-1zM771 365h1v3h-1zM772 368h1v4h-1zM773 372h1v5h-1zM774 377h1v5h-1zM1460 380h1v1h-1zM1458 381h2v1h-2zM775 382h1v5h-1zM1456 382h2v1h-2zM1454 383h2v1h-2zM1452 384h2v1h-2zM1450 385h2v1h-2zM1449 386h1v1h-1zM776 387h1v4h-1zM1447 387h2v1h-2zM1353 388h7v1h-7zM1445 388h2v1h-2zM1348 389h5v1h-5zM1360 389h5v1h-5zM1444 389h1v1h-1zM1347 390h1v2h-1zM1365 390h1v2h-1zM1442 390h2v1h-2zM777 391h1v5h-1zM1441 391h1v1h-1zM1346 392h1v1h-1zM1366 392h1v2h-1zM1439 392h2v1h-2zM1345 393h1v1h-1zM1437 393h2v1h-2zM1344 394h1v2h-1zM1367 394h1v2h-1zM1436 394h1v1h-1zM1434 395h2v1h-2zM778 396h1v5h-1zM1343 396h1v1h-1zM1368 396h1v1h-1zM1432 396h2v1h-2zM1342 397h1v1h-1zM1369 397h1v2h-1zM1430 397h2v1h-2zM1341 398h1v2h-1zM1428 398h2v1h-2zM1370 399h1v2h-1zM1427 399h1v2h-1zM1340 400h1v2h-1zM779 401h1v5h-1zM1371 401h1v2h-1zM1426 401h1v1h-1zM1339 402h1v2h-1zM1425 402h1v2h-1zM1372 403h1v1h-1zM1338 404h1v3h-1zM1373 404h2v1h-2zM1424 404h1v1h-1zM1375 405h1v1h-1zM1423 405h1v2h-1zM780 406h1v4h-1zM1376 406h2v1h-2zM1075 407h5v1h-5zM1337 407h1v2h-1zM1378 407h2v1h-2zM1422 407h1v1h-1zM1073 408h2v1h-2zM1080 408h6v1h-6zM1380 408h1v1h-1zM1421 408h1v2h-1zM1059 409h5v1h-5zM1070 409h3v1h-3zM1086 409h4v1h-4zM1336 409h1v3h-1zM1381 409h2v1h-2zM781 410h1v4h-1zM1055 410h4v1h-4zM1064 410h6v1h-6zM1090 410h4v1h-4zM1383 410h1v1h-1zM1420 410h1v1h-1zM1052 411h3v1h-3zM1094 411h2v1h-2zM1131 411h2v1h-2zM1384 411h2v1h-2zM1418 411h2v1h-2zM1051 412h1v1h-1zM1096 412h3v1h-3zM1127 412h4v1h-4zM1132 412h1v1h-1zM1335 412h1v2h-1zM1386 412h2v1h-2zM1417 412h1v1h-1zM1050 413h1v1h-1zM1099 413h28v1h-28zM1133 413h1v2h-1zM1388 413h1v1h-1zM1415 413h2v1h-2zM782 414h1v3h-1zM1049 414h1v1h-1zM1334 414h1v3h-1zM1389 414h2v1h-2zM1413 414h2v1h-2zM1048 415h1v1h-1zM1134 415h1v2h-1zM1391 415h2v1h-2zM1411 415h2v1h-2zM1047 416h1v1h-1zM1393 416h2v1h-2zM1409 416h2v1h-2zM783 417h1v3h-1zM1046 417h1v1h-1zM1135 417h1v2h-1zM1333 417h1v2h-1zM1395 417h5v1h-5zM1406 417h3v1h-3zM1045 418h1v1h-1zM1400 418h6v1h-6zM1044 419h1v1h-1zM1136 419h1v3h-1zM1332 419h1v2h-1zM784 420h1v4h-1zM1043 420h1v1h-1zM1042 421h1v1h-1zM1331 421h1v2h-1zM1041 422h1v1h-1zM1137 422h1v2h-1zM1039 423h2v1h-2zM1330 423h1v2h-1zM785 424h1v3h-1zM1038 424h1v1h-1zM1138 424h1v2h-1zM1037 425h1v1h-1zM1329 425h1v2h-1zM1036 426h1v1h-1zM1139 426h1v2h-1zM786 427h1v3h-1zM1035 427h1v1h-1zM1328 427h1v2h-1zM1034 428h1v2h-1zM1140 428h1v2h-1zM1327 429h1v2h-1zM787 430h1v4h-1zM1033 430h1v1h-1zM1141 430h1v2h-1zM1032 431h1v1h-1zM1326 431h1v2h-1zM1031 432h1v1h-1zM1142 432h1v1h-1zM1020 433h2v1h-2zM1030 433h1v2h-1zM1143 433h1v1h-1zM1325 433h1v2h-1zM788 434h1v4h-1zM1019 434h1v1h-1zM1022 434h2v1h-2zM1144 434h1v2h-1zM1018 435h1v1h-1zM1024 435h3v1h-3zM1029 435h1v1h-1zM1324 435h1v1h-1zM1017 436h1v1h-1zM1027 436h2v1h-2zM1145 436h1v1h-1zM1323 436h1v2h-1zM1016 437h1v1h-1zM1146 437h1v1h-1zM789 438h1v5h-1zM1015 438h1v1h-1zM1147 438h1v2h-1zM1322 438h1v1h-1zM1014 439h1v1h-1zM1321 439h1v2h-1zM1013 440h1v1h-1zM1148 440h2v1h-2zM1004 441h9v1h-9zM1150 441h2v1h-2zM1320 441h1v1h-1zM1002 442h2v1h-2zM1152 442h3v1h-3zM1319 442h1v2h-1zM790 443h1v4h-1zM1001 443h1v1h-1zM1155 443h2v1h-2zM999 444h2v1h-2zM1157 444h1v1h-1zM1318 444h1v1h-1zM997 445h2v1h-2zM1158 445h1v1h-1zM1317 445h1v2h-1zM988 446h9v1h-9zM1159 446h1v1h-1zM791 447h1v5h-1zM987 447h1v1h-1zM1160 447h1v1h-1zM1316 447h1v1h-1zM986 448h1v2h-1zM1161 448h1v1h-1zM1314 448h2v1h-2zM1162 449h1v1h-1zM1312 449h2v1h-2zM985 450h1v1h-1zM1163 450h1v1h-1zM1310 450h2v1h-2zM984 451h1v1h-1zM1164 451h1v1h-1zM1308 451h2v1h-2zM792 452h1v5h-1zM983 452h1v1h-1zM1165 452h1v1h-1zM1307 452h1v1h-1zM982 453h1v2h-1zM1166 453h1v1h-1zM1306 453h1v2h-1zM1167 454h1v1h-1zM981 455h1v1h-1zM1168 455h2v1h-2zM1305 455h1v1h-1zM980 456h1v2h-1zM1170 456h1v1h-1zM1304 456h1v1h-1zM793 457h1v5h-1zM1171 457h1v1h-1zM1303 457h1v1h-1zM979 458h1v4h-1zM1172 458h1v1h-1zM1302 458h1v2h-1zM1173 459h1v1h-1zM1174 460h1v1h-1zM1301 460h1v1h-1zM1175 461h1v1h-1zM1300 461h1v1h-1zM794 462h1v4h-1zM978 462h1v4h-1zM1176 462h2v1h-2zM1299 462h1v2h-1zM1178 463h1v1h-1zM1179 464h1v1h-1zM1298 464h1v1h-1zM1180 465h34v1h-34zM1297 465h1v1h-1zM795 466h1v5h-1zM977 466h1v4h-1zM1214 466h4v1h-4zM1296 466h1v2h-1zM1218 467h4v1h-4zM1222 468h4v1h-4zM1295 468h1v1h-1zM1226 469h4v1h-4zM1294 469h1v1h-1zM976 470h1v4h-1zM1230 470h4v1h-4zM1293 470h1v2h-1zM796 471h1v5h-1zM1234 471h4v1h-4zM1238 472h2v1h-2zM1257 472h36v1h-36zM1240 473h3v1h-3zM1249 473h8v1h-8zM975 474h1v4h-1zM1243 474h6v1h-6zM797 476h1v4h-1zM974 478h1v4h-1zM798 480h1v4h-1zM973 482h1v4h-1zM799 484h1v4h-1zM972 486h1v2h-1zM971 487h1v1h-1zM800 488h1v4h-1zM969 488h2v1h-2zM966 489h3v1h-3zM964 490h2v1h-2zM964 491h1v1h-1zM801 492h1v4h-1zM963 492h1v2h-1zM962 494h1v2h-1zM802 496h1v4h-1zM961 496h1v2h-1zM960 498h1v2h-1zM803 500h1v4h-1zM959 500h1v2h-1zM958 502h1v2h-1zM804 504h1v3h-1zM957 504h1v2h-1zM956 506h1v1h-1zM805 507h1v2h-1zM955 507h1v2h-1zM806 509h1v1h-1zM954 509h1v1h-1zM807 510h1v2h-1zM953 510h1v1h-1zM952 511h1v2h-1zM808 512h1v1h-1zM809 513h1v2h-1zM951 513h1v1h-1zM950 514h1v1h-1zM810 515h1v1h-1zM949 515h1v2h-1zM811 516h1v2h-1zM945 517h4v1h-4zM812 518h1v2h-1zM916 518h10v1h-10zM939 518h6v1h-6zM915 519h1v1h-1zM926 519h2v1h-2zM937 519h2v1h-2zM813 520h1v4h-1zM914 520h1v1h-1zM928 520h3v1h-3zM934 520h3v1h-3zM913 521h1v1h-1zM931 521h3v1h-3zM912 522h1v2h-1zM814 524h1v4h-1zM911 524h1v1h-1zM910 525h1v1h-1zM909 526h1v1h-1zM908 527h1v1h-1zM815 528h1v4h-1zM907 528h1v1h-1zM906 529h1v1h-1zM905 530h1v1h-1zM904 531h1v2h-1zM816 532h1v4h-1zM903 533h1v1h-1zM902 534h1v1h-1zM901 535h1v1h-1zM817 536h1v4h-1zM899 536h2v1h-2zM897 537h2v1h-2zM894 538h3v1h-3zM892 539h2v1h-2zM818 540h1v4h-1zM891 540h1v2h-1zM890 542h1v1h-1zM889 543h1v1h-1zM819 544h1v4h-1zM888 544h1v2h-1zM887 546h1v1h-1zM886 547h1v1h-1zM820 548h1v2h-1zM885 548h1v2h-1zM821 550h1v2h-1zM884 550h1v1h-1zM883 551h1v2h-1zM822 552h1v1h-1zM823 553h1v2h-1zM882 553h1v2h-1zM824 555h1v1h-1zM881 555h1v2h-1zM825 556h1v2h-1zM880 557h1v1h-1zM826 558h1v1h-1zM879 558h1v2h-1zM827 559h1v2h-1zM878 560h1v2h-1zM828 561h2v1h-2zM830 562h4v1h-4zM877 562h1v2h-1zM834 563h4v1h-4zM838 564h2v1h-2zM875 564h2v1h-2zM840 565h3v1h-3zM871 565h4v1h-4zM843 566h3v1h-3zM868 566h3v1h-3zM846 567h4v1h-4zM866 567h2v1h-2zM850 568h4v1h-4zM864 568h2v1h-2zM854 569h4v1h-4zM862 569h2v1h-2zM858 570h4v1h-4z" fill="#3cb371" shape-rendering="crispEdges"/>
</g>
<g shape-rendering="crispEdges">
<rect x="4" y="198" width="1" height="18" fill="#000"/>
<rect x="2" y="203" width="5" height="10" fill="#000"/>
<rect x="3" y="204" width="3" height="8" fill="#fff"/>
<rect x="12" y="201" width="1" height="13" fill="#000"/>
<rect x="10" y="201" width="5" height="7" fill="#000"/>
<rect x="20" y="186" width="1" height="18" fill="#000"/>
<rect x="18" y="194" width="5" height="9" fill="#000"/>
<rect x="19" y="195" width="3" height="7" fill="#fff"/>
<rect x="28" y="183" width="1" height="22" fill="#000"/>
<rect x="26" y="185" width="5" height="18" fill="#000"/>
<rect x="36" y="199" width="1" height="13" fill="#000"/>
<rect x="34" y="202" width="5" height="10" fill="#000"/>
<rect x="44" y="186" width="1" height="22" fill="#000"/>
<rect x="42" y="189" width="5" height="17" fill="#000"/>
<rect x="43" y="190" width="3" height="15" fill="#fff"/>
<rect x="52" y="179" width="1" height="24" fill="#000"/>
<rect x="50" y="179" width="5" height="23" fill="#000"/>
<rect x="51" y="180" width="3" height="21" fill="#fff"/>
<rect x="60" y="150" width="1" height="25" fill="#000"/>
<rect x="58" y="151" width="5" height="24" fill="#000"/>
<rect x="59" y="152" width="3" height="22" fill="#fff"/>
<rect x="68" y="141" width="1" height="20" fill="#000"/>
<rect x="66" y="146" width="5" height="4" fill="#000"/>
<rect x="67" y="147" width="3" height="2" fill="#fff"/>
<rect x="76" y="139" width="1" height="16" fill="#000"/>
<rect x="74" y="142" width="5" height="7" fill="#000"/>
<rect x="75" y="143" width="3" height="5" fill="#fff"/>
<rect x="84" y="129" width="1" height="26" fill="#000"/>
<rect x="82" y="137" width="5" height="12" fill="#000"/>
<rect x="83" y="138" width="3" height="10" fill="#fff"/>
<rect x="92" y="134" width="1" height="18" fill="#000"/>
<rect x="90" y="134" width="5" height="13" fill="#000"/>
<rect x="100" y="159" width="1" height="42" fill="#000"/>
<rect x="98" y="160" width="5" height="29" fill="#000"/>
<rect x="108" y="180" width="1" height="23" fill="#000"/>
<rect x="106" y="180" width="5" height="10" fill="#000"/>
<rect x="116" y="204" width="1" height="19" fill="#000"/>
<rect x="114" y="204" width="5" height="17" fill="#000"/>
<rect x="124" y="211" width="1" height="29" fill="#000"/>
<rect x="122" y="223" width="5" height="8" fill="#000"/>
<rect x="132" y="212" width="1" height="22" fill="#000"/>
<rect x="130" y="218" width="5" height="16" fill="#000"/>
<rect x="140" y="206" width="1" height="25" fill="#000"/>
<rect x="138" y="208" width="5" height="23" fill="#000"/>
<rect x="139" y="209" width="3" height="21" fill="#fff"/>
<rect x="148" y="181" width="1" height="39" fill="#000"/>
<rect x="146" y="183" width="5" height="36" fill="#000"/>
<rect x="147" y="184" width="3" height="34" fill="#fff"/>
<rect x="156" y="190" width="1" height="13" fill="#000"/>
<rect x="154" y="196" width="5" height="5" fill="#000"/>
<rect x="164" y="213" width="1" height="21" fill="#000"/>
<rect x="162" y="215" width="5" height="9" fill="#000"/>
<rect x="172" y="208" width="1" height="14" fill="#000"/>
<rect x="170" y="211" width="5" height="3" fill="#000"/>
<rect x="171" y="212" width="3" height="1" fill="#fff"/>
<rect x="180" y="179" width="1" height="32" fill="#000"/>
<rect x="178" y="186" width="5" height="25" fill="#000"/>
<rect x="179" y="187" width="3" height="23" fill="#fff"/>
<rect x="188" y="172" width="1" height="22" fill="#000"/>
<rect x="186" y="177" width="5" height="13" fill="#000"/>
<rect x="196" y="184" width="1" height="9" fill="#000"/>
<rect x="194" y="184" width="5" height="4" fill="#000"/>
<rect x="204" y="185" width="1" height="17" fill="#000"/>
<rect x="202" y="196" width="5" height="4" fill="#000"/>
<rect x="203" y="197" width="3" height="2" fill="#fff"/>
<rect x="212" y="195" width="1" height="36" fill="#000"/>
<rect x="210" y="195" width="5" height="35" fill="#000"/>
<rect x="220" y="214" width="1" height="11" fill="#000"/>
<rect x="218" y="220" width="5" height="2" fill="#000"/>
<rect x="228" y="221" width="1" height="25" fill="#000"/>
<rect x="226" y="226" width="5" height="5" fill="#000"/>
<rect x="227" y="227" width="3" height="3" fill="#fff"/>
<rect x="236" y="238" width="1" height="15" fill="#000"/>
<rect x="234" y="246" width="5" height="4" fill="#000"/>
<rect x="235" y="247" width="3" height="2" fill="#fff"/>
<rect x="244" y="230" width="1" height="13" fill="#000"/>
<rect x="242" y="234" width="5" height="2" fill="#000"/>
<rect x="252" y="217" width="1" height="15" fill="#000"/>
<rect x="250" y="218" width="5" height="14" fill="#000"/>
<rect x="251" y="219" width="3" height="12" fill="#fff"/>
<rect x="260" y="209" width="1" height="15" fill="#000"/>
<rect x="258" y="218" width="5" height="3" fill="#000"/>
<rect x="259" y="219" width="3" height="1" fill="#fff"/>
<rect x="268" y="215" width="1" height="18" fill="#000"/>
<rect x="266" y="224" width="5" height="2" fill="#000"/>
<rect x="276" y="207" width="1" height="21" fill="#000"/>
<rect x="274" y="210" width="5" height="16" fill="#000"/>
<rect x="275" y="211" width="3" height="14" fill="#fff"/>
<rect x="284" y="182" width="1" height="21" fill="#000"/>
<rect x="282" y="188" width="5" height="15" fill="#000"/>
<rect x="283" y="189" width="3" height="13" fill="#fff"/>
<rect x="292" y="142" width="1" height="20" fill="#000"/>
<rect x="290" y="144" width="5" height="16" fill="#000"/>
<rect x="291" y="145" width="3" height="14" fill="#fff"/>
<rect x="300" y="142" width="1" height="15" fill="#000"/>
<rect x="298" y="151" width="5" height="2" fill="#000"/>
<rect x="308" y="131" width="1" height="23" fill="#000"/>
<rect x="306" y="137" width="5" height="14" fill="#000"/>
<rect x="307" y="138" width="3" height="12" fill="#fff"/>
<rect x="316" y="124" width="1" height="16" fill="#000"/>
<rect x="314" y="131" width="5" height="2" fill="#000"/>
<rect x="324" y="128" width="1" height="18" fill="#000"/>
<rect x="322" y="132" width="5" height="7" fill="#000"/>
<rect x="332" y="125" width="1" height="17" fill="#000"/>
<rect x="330" y="130" width="5" height="9" fill="#000"/>
<rect x="331" y="131" width="3" height="7" fill="#fff"/>
<rect x="340" y="122" width="1" height="14" fill="#000"/>
<rect x="338" y="123" width="5" height="13" fill="#000"/>
<rect x="348" y="125" width="1" height="9" fill="#000"/>
<rect x="346" y="127" width="5" height="3" fill="#000"/>
<rect x="356" y="105" width="1" height="14" fill="#000"/>
<rect x="354" y="106" width="5" height="12" fill="#000"/>
<rect x="355" y="107" width="3" height="10" fill="#fff"/>
<rect x="364" y="93" width="1" height="17" fill="#000"/>
<rect x="362" y="101" width="5" height="7" fill="#000"/>
<rect x="363" y="102" width="3" height="5" fill="#fff"/>
<rect x="372" y="101" width="1" height="14" fill="#000"/>
<rect x="370" y="107" width="5" height="2" fill="#000"/>
<rect x="380" y="87" width="1" height="27" fill="#000"/>
<rect x="378" y="88" width="5" height="16" fill="#000"/>
<rect x="379" y="89" width="3" height="14" fill="#fff"/>
<rect x="388" y="67" width="1" height="33" fill="#000"/>
<rect x="386" y="71" width="5" height="28" fill="#000"/>
<rect x="396" y="99" width="1" height="23" fill="#000"/>
<rect x="394" y="108" width="5" height="7" fill="#000"/>
<rect x="404" y="93" width="1" height="16" fill="#000"/>
<rect x="402" y="100" width="5" height="3" fill="#000"/>
<rect x="412" y="110" width="1" height="25" fill="#000"/>
<rect x="410" y="123" width="5" height="10" fill="#000"/>
<rect x="411" y="124" width="3" height="8" fill="#fff"/>
<rect x="420" y="87" width="1" height="17" fill="#000"/>
<rect x="418" y="87" width="5" height="13" fill="#000"/>
<rect x="419" y="88" width="3" height="11" fill="#fff"/>
<rect x="428" y="81" width="1" height="12" fill="#000"/>
<rect x="426" y="85" width="5" height="1" fill="#000"/>
<rect x="436" y="61" width="1" height="22" fill="#000"/>
<rect x="434" y="67" width="5" height="16" fill="#000"/>
<rect x="435" y="68" width="3" height="14" fill="#fff"/>
<rect x="444" y="50" width="1" height="28" fill="#000"/>
<rect x="442" y="51" width="5" height="27" fill="#000"/>
<rect x="452" y="63" width="1" height="23" fill="#000"/>
<rect x="450" y="67" width="5" height="13" fill="#000"/>
<rect x="460" y="62" width="1" height="19" fill="#000"/>
<rect x="458" y="70" width="5" height="5" fill="#000"/>
<rect x="459" y="71" width="3" height="3" fill="#fff"/>
<rect x="468" y="54" width="1" height="23" fill="#000"/>
<rect x="466" y="59" width="5" height="4" fill="#000"/>
<rect x="467" y="60" width="3" height="2" fill="#fff"/>
<rect x="476" y="51" width="1" height="33" fill="#000"/>
<rect x="474" y="54" width="5" height="30" fill="#000"/>
<rect x="484" y="88" width="1" height="48" fill="#000"/>
<rect x="482" y="90" width="5" height="43" fill="#000"/>
<rect x="492" y="102" width="1" height="29" fill="#000"/>
<rect x="490" y="107" width="5" height="16" fill="#000"/>
<rect x="491" y="108" width="3" height="14" fill="#fff"/>
<rect x="500" y="118" width="1" height="27" fill="#000"/>
<rect x="498" y="123" width="5" height="15" fill="#000"/>
<rect x="508" y="130" width="1" height="15" fill="#000"/>
<rect x="506" y="134" width="5" height="10" fill="#000"/>
<rect x="507" y="135" width="3" height="8" fill="#fff"/>
<rect x="516" y="170" width="1" height="22" fill="#000"/>
<rect x="514" y="184" width="5" height="6" fill="#000"/>
<rect x="515" y="185" width="3" height="4" fill="#fff"/>
<rect x="524" y="183" width="1" height="52" fill="#000"/>
<rect x="522" y="194" width="5" height="36" fill="#000"/>
<rect x="532" y="203" width="1" height="34" fill="#000"/>
<rect x="530" y="206" width="5" height="30" fill="#000"/>
<rect x="540" y="222" width="1" height="28" fill="#000"/>
<rect x="538" y="237" width="5" height="2" fill="#000"/>
<rect x="548" y="202" width="1" height="30" fill="#000"/>
<rect x="546" y="202" width="5" height="27" fill="#000"/>
<rect x="547" y="203" width="3" height="25" fill="#fff"/>
<rect x="556" y="198" width="1" height="20" fill="#000"/>
<rect x="554" y="201" width="5" height="5" fill="#000"/>
<rect x="564" y="153" width="1" height="41" fill="#000"/>
<rect x="562" y="164" width="5" height="26" fill="#000"/>
<rect x="563" y="165" width="3" height="24" fill="#fff"/>
<rect x="572" y="167" width="1" height="14" fill="#000"/>
<rect x="570" y="171" width="5" height="10" fill="#000"/>
<rect x="571" y="172" width="3" height="8" fill="#fff"/>
<rect x="580" y="173" width="1" height="22" fill="#000"/>
<rect x="578" y="182" width="5" height="13" fill="#000"/>
<rect x="579" y="183" width="3" height="11" fill="#fff"/>
<rect x="588" y="150" width="1" height="22" fill="#000"/>
<rect x="586" y="153" width="5" height="19" fill="#000"/>
<rect x="587" y="154" width="3" height="17" fill="#fff"/>
<rect x="596" y="137" width="1" height="19" fill="#000"/>
<rect x="594" y="140" width="5" height="10" fill="#000"/>
<rect x="595" y="141" width="3" height="8" fill="#fff"/>
<rect x="604" y="136" width="1" height="15" fill="#000"/>
<rect x="602" y="138" width="5" height="10" fill="#000"/>
<rect x="612" y="132" width="1" height="19" fill="#000"/>
<rect x="610" y="141" width="5" height="5" fill="#000"/>
<rect x="611" y="142" width="3" height="3" fill="#fff"/>
<rect x="620" y="125" width="1" height="24" fill="#000"/>
<rect x="618" y="135" width="5" height="13" fill="#000"/>
<rect x="619" y="136" width="3" height="11" fill="#fff"/>
<rect x="628" y="144" width="1" height="19" fill="#000"/>
<rect x="626" y="144" width="5" height="19" fill="#000"/>
<rect x="636" y="148" width="1" height="17" fill="#000"/>
<rect x="634" y="152" width="5" height="8" fill="#000"/>
<rect x="635" y="153" width="3" height="6" fill="#fff"/>
<rect x="644" y="144" width="1" height="29" fill="#000"/>
<rect x="642" y="144" width="5" height="19" fill="#000"/>
<rect x="652" y="164" width="1" height="15" fill="#000"/>
<rect x="650" y="171" width="5" height="6" fill="#000"/>
<rect x="660" y="185" width="1" height="25" fill="#000"/>
<rect x="658" y="189" width="5" height="21" fill="#000"/>
<rect x="668" y="199" width="1" height="16" fill="#000"/>
<rect x="666" y="203" width="5" height="12" fill="#000"/>
<rect x="667" y="204" width="3" height="10" fill="#fff"/>
<rect x="676" y="209" width="1" height="26" fill="#000"/>
<rect x="674" y="215" width="5" height="20" fill="#000"/>
<rect x="675" y="216" width="3" height="18" fill="#fff"/>
<rect x="684" y="198" width="1" height="32" fill="#000"/>
<rect x="682" y="208" width="5" height="20" fill="#000"/>
<rect x="683" y="209" width="3" height="18" fill="#fff"/>
<rect x="692" y="232" width="1" height="24" fill="#000"/>
<rect x="690" y="240" width="5" height="2" fill="#000"/>
<rect x="700" y="228" width="1" height="28" fill="#000"/>
<rect x="698" y="233" width="5" height="21" fill="#000"/>
<rect x="699" y="234" width="3" height="19" fill="#fff"/>
<rect x="708" y="218" width="1" height="23" fill="#000"/>
<rect x="706" y="218" width="5" height="14" fill="#000"/>
<rect x="716" y="228" width="1" height="25" fill="#000"/>
<rect x="714" y="235" width="5" height="7" fill="#000"/>
<rect x="724" y="202" width="1" height="34" fill="#000"/>
<rect x="722" y="207" width="5" height="26" fill="#000"/>
<rect x="723" y="208" width="3" height="24" fill="#fff"/>
<rect x="732" y="225" width="1" height="26" fill="#000"/>
<rect x="730" y="228" width="5" height="22" fill="#000"/>
<rect x="740" y="295" width="1" height="30" fill="#000"/>
<rect x="738" y="304" width="5" height="19" fill="#000"/>
<rect x="748" y="277" width="1" height="40" fill="#000"/>
<rect x="746" y="286" width="5" height="17" fill="#000"/>
<rect x="747" y="287" width="3" height="15" fill="#fff"/>
<rect x="756" y="283" width="1" height="25" fill="#000"/>
<rect x="754" y="285" width="5" height="20" fill="#000"/>
<rect x="764" y="332" width="1" height="43" fill="#000"/>
<rect x="762" y="333" width="5" height="38" fill="#000"/>
<rect x="772" y="364" width="1" height="128" fill="#000"/>
<rect x="770" y="382" width="5" height="86" fill="#000"/>
<rect x="771" y="383" width="3" height="84" fill="#fff"/>
<rect x="780" y="404" width="1" height="54" fill="#000"/>
<rect x="778" y="433" width="5" height="22" fill="#000"/>
<rect x="788" y="412" width="1" height="52" fill="#000"/>
<rect x="786" y="435" width="5" height="16" fill="#000"/>
<rect x="787" y="436" width="3" height="14" fill="#fff"/>
<rect x="796" y="413" width="1" height="86" fill="#000"/>
<rect x="794" y="459" width="5" height="40" fill="#000"/>
<rect x="804" y="477" width="1" height="87" fill="#000"/>
<rect x="802" y="498" width="5" height="11" fill="#000"/>
<rect x="812" y="430" width="1" height="66" fill="#000"/>
<rect x="810" y="432" width="5" height="64" fill="#000"/>
<rect x="811" y="433" width="3" height="62" fill="#fff"/>
<rect x="820" y="495" width="1" height="48" fill="#000"/>
<rect x="818" y="530" width="5" height="13" fill="#000"/>
<rect x="819" y="531" width="3" height="11" fill="#fff"/>
<rect x="828" y="450" width="1" height="28" fill="#000"/>
<rect x="826" y="454" width="5" height="14" fill="#000"/>
<rect x="827" y="455" width="3" height="12" fill="#fff"/>
<rect x="836" y="397" width="1" height="39" fill="#000"/>
<rect x="834" y="399" width="5" height="23" fill="#000"/>
<rect x="835" y="400" width="3" height="21" fill="#fff"/>
<rect x="844" y="402" width="1" height="30" fill="#000"/>
<rect x="842" y="408" width="5" height="19" fill="#000"/>
<rect x="852" y="384" width="1" height="34" fill="#000"/>
<rect x="850" y="384" width="5" height="23" fill="#000"/>
<rect x="860" y="404" width="1" height="49" fill="#000"/>
<rect x="858" y="436" width="5" height="17" fill="#000"/>
<rect x="859" y="437" width="3" height="15" fill="#fff"/>
<rect x="868" y="390" width="1" height="34" fill="#000"/>
<rect x="866" y="393" width="5" height="12" fill="#000"/>
<rect x="867" y="394" width="3" height="10" fill="#fff"/>
<rect x="876" y="402" width="1" height="42" fill="#000"/>
<rect x="874" y="415" width="5" height="27" fill="#000"/>
<rect x="884" y="419" width="1" height="41" fill="#000"/>
<rect x="882" y="420" width="5" height="38" fill="#000"/>
<rect x="883" y="421" width="3" height="36" fill="#fff"/>
<rect x="892" y="421" width="1" height="16" fill="#000"/>
<rect x="890" y="424" width="5" height="10" fill="#000"/>
<rect x="891" y="425" width="3" height="8" fill="#fff"/>
<rect x="900" y="383" width="1" height="36" fill="#000"/>
<rect x="898" y="390" width="5" height="2" fill="#000"/>
<rect x="908" y="347" width="1" height="44" fill="#000"/>
<rect x="906" y="348" width="5" height="26" fill="#000"/>
<rect x="907" y="349" width="3" height="24" fill="#fff"/>
<rect x="916" y="361" width="1" height="29" fill="#000"/>
<rect x="914" y="371" width="5" height="19" fill="#000"/>
<rect x="924" y="353" width="1" height="21" fill="#000"/>
<rect x="922" y="361" width="5" height="2" fill="#000"/>
<rect x="932" y="337" width="1" height="23" fill="#000"/>
<rect x="930" y="350" width="5" height="7" fill="#000"/>
<rect x="931" y="351" width="3" height="5" fill="#fff"/>
<rect x="940" y="336" width="1" height="38" fill="#000"/>
<rect x="938" y="349" width="5" height="24" fill="#000"/>
<rect x="948" y="367" width="1" height="19" fill="#000"/>
<rect x="946" y="377" width="5" height="3" fill="#000"/>
<rect x="947" y="378" width="3" height="1" fill="#fff"/>
<rect x="956" y="332" width="1" height="27" fill="#000"/>
<rect x="954" y="343" width="5" height="10" fill="#000"/>
<rect x="964" y="345" width="1" height="19" fill="#000"/>
<rect x="962" y="356" width="5" height="2" fill="#000"/>
<rect x="972" y="359" width="1" height="39" fill="#000"/>
<rect x="970" y="365" width="5" height="27" fill="#000"/>
<rect x="980" y="379" width="1" height="31" fill="#000"/>
<rect x="978" y="383" width="5" height="24" fill="#000"/>
<rect x="979" y="384" width="3" height="22" fill="#fff"/>
<rect x="988" y="369" width="1" height="20" fill="#000"/>
<rect x="986" y="375" width="5" height="5" fill="#000"/>
<rect x="987" y="376" width="3" height="3" fill="#fff"/>
<rect x="996" y="386" width="1" height="16" fill="#000"/>
<rect x="994" y="391" width="5" height="2" fill="#000"/>
<rect x="1004" y="360" width="1" height="21" fill="#000"/>
<rect x="1002" y="363" width="5" height="18" fill="#000"/>
<rect x="1003" y="364" width="3" height="16" fill="#fff"/>
<rect x="1012" y="338" width="1" height="34" fill="#000"/>
<rect x="1010" y="338" width="5" height="18" fill="#000"/>
<rect x="1011" y="339" width="3" height="16" fill="#fff"/>
<rect x="1020" y="326" width="1" height="22" fill="#000"/>
<rect x="1018" y="337" width="5" height="7" fill="#000"/>
<rect x="1028" y="391" width="1" height="27" fill="#000"/>
<rect x="1026" y="394" width="5" height="20" fill="#000"/>
<rect x="1036" y="387" width="1" height="18" fill="#000"/>
<rect x="1034" y="389" width="5" height="11" fill="#000"/>
<rect x="1035" y="390" width="3" height="9" fill="#fff"/>
<rect x="1044" y="366" width="1" height="33" fill="#000"/>
<rect x="1042" y="372" width="5" height="26" fill="#000"/>
<rect x="1043" y="373" width="3" height="24" fill="#fff"/>
<rect x="1052" y="376" width="1" height="13" fill="#000"/>
<rect x="1050" y="380" width="5" height="4" fill="#000"/>
<rect x="1060" y="363" width="1" height="12" fill="#000"/>
<rect x="1058" y="367" width="5" height="3" fill="#000"/>
<rect x="1059" y="368" width="3" height="1" fill="#fff"/>
<rect x="1068" y="331" width="1" height="26" fill="#000"/>
<rect x="1066" y="344" width="5" height="10" fill="#000"/>
<rect x="1067" y="345" width="3" height="8" fill="#fff"/>
<rect x="1076" y="355" width="1" height="20" fill="#000"/>
<rect x="1074" y="360" width="5" height="6" fill="#000"/>
<rect x="1084" y="359" width="1" height="24" fill="#000"/>
<rect x="1082" y="370" width="5" height="9" fill="#000"/>
<rect x="1083" y="371" width="3" height="7" fill="#fff"/>
<rect x="1092" y="376" width="1" height="22" fill="#000"/>
<rect x="1090" y="378" width="5" height="17" fill="#000"/>
<rect x="1100" y="380" width="1" height="23" fill="#000"/>
<rect x="1098" y="388" width="5" height="8" fill="#000"/>
<rect x="1108" y="378" width="1" height="22" fill="#000"/>
<rect x="1106" y="379" width="5" height="21" fill="#000"/>
<rect x="1107" y="380" width="3" height="19" fill="#fff"/>
<rect x="1116" y="341" width="1" height="19" fill="#000"/>
<rect x="1114" y="353" width="5" height="4" fill="#000"/>
<rect x="1115" y="354" width="3" height="2" fill="#fff"/>
<rect x="1124" y="344" width="1" height="15" fill="#000"/>
<rect x="1122" y="347" width="5" height="9" fill="#000"/>
<rect x="1123" y="348" width="3" height="7" fill="#fff"/>
<rect x="1132" y="345" width="1" height="23" fill="#000"/>
<rect x="1130" y="351" width="5" height="16" fill="#000"/>
<rect x="1140" y="393" width="1" height="63" fill="#000"/>
<rect x="1138" y="393" width="5" height="63" fill="#000"/>
<rect x="1148" y="440" width="1" height="28" fill="#000"/>
<rect x="1146" y="444" width="5" height="6" fill="#000"/>
<rect x="1147" y="445" width="3" height="4" fill="#fff"/>
<rect x="1156" y="407" width="1" height="22" fill="#000"/>
<rect x="1154" y="415" width="5" height="14" fill="#000"/>
<rect x="1155" y="416" width="3" height="12" fill="#fff"/>
<rect x="1164" y="418" width="1" height="25" fill="#000"/>
<rect x="1162" y="424" width="5" height="14" fill="#000"/>
<rect x="1172" y="422" width="1" height="44" fill="#000"/>
<rect x="1170" y="440" width="5" height="4" fill="#000"/>
<rect x="1180" y="444" width="1" height="31" fill="#000"/>
<rect x="1178" y="451" width="5" height="9" fill="#000"/>
<rect x="1179" y="452" width="3" height="7" fill="#fff"/>
<rect x="1188" y="395" width="1" height="32" fill="#000"/>
<rect x="1186" y="410" width="5" height="17" fill="#000"/>
<rect x="1187" y="411" width="3" height="15" fill="#fff"/>
<rect x="1196" y="377" width="1" height="28" fill="#000"/>
<rect x="1194" y="378" width="5" height="21" fill="#000"/>
<rect x="1195" y="379" width="3" height="19" fill="#fff"/>
<rect x="1204" y="352" width="1" height="19" fill="#000"/>
<rect x="1202" y="352" width="5" height="9" fill="#000"/>
<rect x="1212" y="339" width="1" height="29" fill="#000"/>
<rect x="1210" y="341" width="5" height="16" fill="#000"/>
<rect x="1220" y="326" width="1" height="39" fill="#000"/>
<rect x="1218" y="331" width="5" height="29" fill="#000"/>
<rect x="1219" y="332" width="3" height="27" fill="#fff"/>
<rect x="1228" y="313" width="1" height="25" fill="#000"/>
<rect x="1226" y="316" width="5" height="13" fill="#000"/>
<rect x="1236" y="301" width="1" height="29" fill="#000"/>
<rect x="1234" y="321" width="5" height="6" fill="#000"/>
<rect x="1235" y="322" width="3" height="4" fill="#fff"/>
<rect x="1244" y="297" width="1" height="23" fill="#000"/>
<rect x="1242" y="311" width="5" height="2" fill="#000"/>
<rect x="1252" y="312" width="1" height="43" fill="#000"/>
<rect x="1250" y="318" width="5" height="35" fill="#000"/>
<rect x="1260" y="360" width="1" height="28" fill="#000"/>
<rect x="1258" y="361" width="5" height="22" fill="#000"/>
<rect x="1259" y="362" width="3" height="20" fill="#fff"/>
<rect x="1268" y="365" width="1" height="38" fill="#000"/>
<rect x="1266" y="381" width="5" height="13" fill="#000"/>
<rect x="1276" y="345" width="1" height="17" fill="#000"/>
<rect x="1274" y="353" width="5" height="1" fill="#000"/>
<rect x="1284" y="345" width="1" height="25" fill="#000"/>
<rect x="1282" y="350" width="5" height="6" fill="#000"/>
<rect x="1283" y="351" width="3" height="4" fill="#fff"/>
<rect x="1292" y="347" width="1" height="27" fill="#000"/>
<rect x="1290" y="354" width="5" height="5" fill="#000"/>
<rect x="1291" y="355" width="3" height="3" fill="#fff"/>
<rect x="1300" y="329" width="1" height="31" fill="#000"/>
<rect x="1298" y="336" width="5" height="21" fill="#000"/>
<rect x="1299" y="337" width="3" height="19" fill="#fff"/>
<rect x="1308" y="336" width="1" height="17" fill="#000"/>
<rect x="1306" y="346" width="5" height="7" fill="#000"/>
<rect x="1307" y="347" width="3" height="5" fill="#fff"/>
<rect x="1316" y="313" width="1" height="54" fill="#000"/>
<rect x="1314" y="315" width="5" height="20" fill="#000"/>
<rect x="1315" y="316" width="3" height="18" fill="#fff"/>
<rect x="1324" y="315" width="1" height="32" fill="#000"/>
<rect x="1322" y="319" width="5" height="24" fill="#000"/>
<rect x="1332" y="338" width="1" height="20" fill="#000"/>
<rect x="1330" y="354" width="5" height="4" fill="#000"/>
<rect x="1331" y="355" width="3" height="2" fill="#fff"/>
<rect x="1340" y="348" width="1" height="24" fill="#000"/>
<rect x="1338" y="358" width="5" height="14" fill="#000"/>
<rect x="1348" y="352" width="1" height="20" fill="#000"/>
<rect x="1346" y="352" width="5" height="8" fill="#000"/>
<rect x="1356" y="304" width="1" height="48" fill="#000"/>
<rect x="1354" y="305" width="5" height="42" fill="#000"/>
<rect x="1355" y="306" width="3" height="40" fill="#fff"/>
<rect x="1364" y="290" width="1" height="19" fill="#000"/>
<rect x="1362" y="294" width="5" height="15" fill="#000"/>
<rect x="1363" y="295" width="3" height="13" fill="#fff"/>
<rect x="1372" y="223" width="1" height="60" fill="#000"/>
<rect x="1370" y="229" width="5" height="53" fill="#000"/>
<rect x="1371" y="230" width="3" height="51" fill="#fff"/>
<rect x="1380" y="201" width="1" height="53" fill="#000"/>
<rect x="1378" y="211" width="5" height="42" fill="#000"/>
<rect x="1388" y="230" width="1" height="29" fill="#000"/>
<rect x="1386" y="243" width="5" height="4" fill="#000"/>
<rect x="1396" y="226" width="1" height="25" fill="#000"/>
<rect x="1394" y="233" width="5" height="3" fill="#000"/>
<rect x="1404" y="240" width="1" height="39" fill="#000"/>
<rect x="1402" y="249" width="5" height="21" fill="#000"/>
<rect x="1412" y="243" width="1" height="26" fill="#000"/>
<rect x="1410" y="260" width="5" height="7" fill="#000"/>
<rect x="1420" y="270" width="1" height="22" fill="#000"/>
<rect x="1418" y="270" width="5" height="10" fill="#000"/>
<rect x="1428" y="257" width="1" height="29" fill="#000"/>
<rect x="1426" y="264" width="5" height="19" fill="#000"/>
<rect x="1436" y="274" width="1" height="46" fill="#000"/>
<rect x="1434" y="277" width="5" height="42" fill="#000"/>
<rect x="1444" y="298" width="1" height="15" fill="#000"/>
<rect x="1442" y="302" width="5" height="2" fill="#000"/>
<rect x="1452" y="300" width="1" height="30" fill="#000"/>
<rect x="1450" y="311" width="5" height="2" fill="#000"/>
<rect x="1460" y="273" width="1" height="18" fill="#000"/>
<rect x="1458" y="274" width="5" height="15" fill="#000"/>
<rect x="1459" y="275" width="3" height="13" fill="#fff"/>
</g>
<g shape-rendering="crispEdges">
<line x1="1340.5" y1="379.5" x2="1383.4" y2="217.3" stroke="#ff0000" stroke-width="3.8"/><polygon points="1384.7,212.2 1387.0,223.7 1382.8,219.5 1377.0,221.0" fill="#ff0000"/>
<line x1="1385.5" y1="215.0" x2="1446.6" y2="321.1" stroke="#ff0000" stroke-width="3.8"/><polygon points="1449.2,325.6 1439.5,319.1 1445.4,319.0 1448.5,313.9" fill="#ff0000"/>
<line x1="1449.8" y1="324.5" x2="1473.7" y2="268.7" stroke="#ff0000" stroke-width="3.8"/><polygon points="1475.8,263.9 1476.4,275.6 1472.8,270.8 1466.9,271.5" fill="#ff0000"/>
</g>
<g shape-rendering="crispEdges">
<rect x="1251" y="291" width="254" height="9" fill="#00ff00"/>
<rect x="1141" y="296" width="10" height="1" fill="#ff0000"/>
<rect x="1151.5" y="284.5" width="73" height="24" fill="#fff" stroke="#ff0000" stroke-width="1"/>
</g>
<text x="1153.2" y="304.6" font-size="23" fill="#ff0000" textLength="69.6" lengthAdjust="spacingAndGlyphs">25255.3</text>
<g shape-rendering="crispEdges">
<rect x="4" y="621" width="1" height="9" fill="#c0c0c0"/>
<rect x="12" y="621" width="1" height="9" fill="#c0c0c0"/>
<rect x="20" y="619" width="1" height="11" fill="#c0c0c0"/>
<rect x="28" y="619" width="1" height="11" fill="#c0c0c0"/>
<rect x="36" y="620" width="1" height="10" fill="#c0c0c0"/>
<rect x="44" y="618" width="1" height="12" fill="#c0c0c0"/>
<rect x="52" y="616" width="1" height="14" fill="#c0c0c0"/>
<rect x="60" y="611" width="1" height="19" fill="#c0c0c0"/>
<rect x="68" y="608" width="1" height="22" fill="#c0c0c0"/>
<rect x="76" y="604" width="1" height="26" fill="#c0c0c0"/>
<rect x="84" y="602" width="1" height="28" fill="#c0c0c0"/>
<rect x="92" y="601" width="1" height="29" fill="#c0c0c0"/>
<rect x="100" y="605" width="1" height="25" fill="#c0c0c0"/>
<rect x="108" y="609" width="1" height="21" fill="#c0c0c0"/>
<rect x="116" y="615" width="1" height="15" fill="#c0c0c0"/>
<rect x="124" y="621" width="1" height="9" fill="#c0c0c0"/>
<rect x="132" y="627" width="1" height="3" fill="#c0c0c0"/>
<rect x="140" y="628" width="1" height="2" fill="#c0c0c0"/>
<rect x="148" y="626" width="1" height="4" fill="#c0c0c0"/>
<rect x="156" y="627" width="1" height="3" fill="#c0c0c0"/>
<rect x="164" y="629" width="1" height="2" fill="#c0c0c0"/>
<rect x="172" y="629" width="1" height="3" fill="#c0c0c0"/>
<rect x="180" y="629" width="1" height="1" fill="#c0c0c0"/>
<rect x="188" y="628" width="1" height="2" fill="#c0c0c0"/>
<rect x="196" y="627" width="1" height="3" fill="#c0c0c0"/>
<rect x="204" y="627" width="1" height="3" fill="#c0c0c0"/>
<rect x="212" y="629" width="1" height="3" fill="#c0c0c0"/>
<rect x="220" y="629" width="1" height="5" fill="#c0c0c0"/>
<rect x="228" y="629" width="1" height="7" fill="#c0c0c0"/>
<rect x="236" y="629" width="1" height="11" fill="#c0c0c0"/>
<rect x="244" y="629" width="1" height="12" fill="#c0c0c0"/>
<rect x="252" y="629" width="1" height="11" fill="#c0c0c0"/>
<rect x="260" y="629" width="1" height="11" fill="#c0c0c0"/>
<rect x="268" y="629" width="1" height="11" fill="#c0c0c0"/>
<rect x="276" y="629" width="1" height="9" fill="#c0c0c0"/>
<rect x="284" y="629" width="1" height="6" fill="#c0c0c0"/>
<rect x="292" y="626" width="1" height="4" fill="#c0c0c0"/>
<rect x="300" y="621" width="1" height="9" fill="#c0c0c0"/>
<rect x="308" y="616" width="1" height="14" fill="#c0c0c0"/>
<rect x="316" y="611" width="1" height="19" fill="#c0c0c0"/>
<rect x="324" y="608" width="1" height="22" fill="#c0c0c0"/>
<rect x="332" y="605" width="1" height="25" fill="#c0c0c0"/>
<rect x="340" y="604" width="1" height="26" fill="#c0c0c0"/>
<rect x="348" y="603" width="1" height="27" fill="#c0c0c0"/>
<rect x="356" y="599" width="1" height="31" fill="#c0c0c0"/>
<rect x="364" y="597" width="1" height="33" fill="#c0c0c0"/>
<rect x="372" y="596" width="1" height="34" fill="#c0c0c0"/>
<rect x="380" y="593" width="1" height="37" fill="#c0c0c0"/>
<rect x="388" y="593" width="1" height="37" fill="#c0c0c0"/>
<rect x="396" y="594" width="1" height="36" fill="#c0c0c0"/>
<rect x="404" y="595" width="1" height="35" fill="#c0c0c0"/>
<rect x="412" y="598" width="1" height="32" fill="#c0c0c0"/>
<rect x="420" y="597" width="1" height="33" fill="#c0c0c0"/>
<rect x="428" y="596" width="1" height="34" fill="#c0c0c0"/>
<rect x="436" y="594" width="1" height="36" fill="#c0c0c0"/>
<rect x="444" y="594" width="1" height="36" fill="#c0c0c0"/>
<rect x="452" y="594" width="1" height="36" fill="#c0c0c0"/>
<rect x="460" y="594" width="1" height="36" fill="#c0c0c0"/>
<rect x="468" y="593" width="1" height="37" fill="#c0c0c0"/>
<rect x="476" y="595" width="1" height="35" fill="#c0c0c0"/>
<rect x="484" y="603" width="1" height="27" fill="#c0c0c0"/>
<rect x="492" y="606" width="1" height="24" fill="#c0c0c0"/>
<rect x="500" y="612" width="1" height="18" fill="#c0c0c0"/>
<rect x="508" y="617" width="1" height="13" fill="#c0c0c0"/>
<rect x="516" y="626" width="1" height="4" fill="#c0c0c0"/>
<rect x="524" y="629" width="1" height="10" fill="#c0c0c0"/>
<rect x="532" y="629" width="1" height="20" fill="#c0c0c0"/>
<rect x="540" y="629" width="1" height="28" fill="#c0c0c0"/>
<rect x="548" y="629" width="1" height="30" fill="#c0c0c0"/>
<rect x="556" y="629" width="1" height="31" fill="#c0c0c0"/>
<rect x="564" y="629" width="1" height="28" fill="#c0c0c0"/>
<rect x="572" y="629" width="1" height="26" fill="#c0c0c0"/>
<rect x="580" y="629" width="1" height="25" fill="#c0c0c0"/>
<rect x="588" y="629" width="1" height="21" fill="#c0c0c0"/>
<rect x="596" y="629" width="1" height="16" fill="#c0c0c0"/>
<rect x="604" y="629" width="1" height="13" fill="#c0c0c0"/>
<rect x="612" y="629" width="1" height="10" fill="#c0c0c0"/>
<rect x="620" y="629" width="1" height="6" fill="#c0c0c0"/>
<rect x="628" y="629" width="1" height="7" fill="#c0c0c0"/>
<rect x="636" y="629" width="1" height="6" fill="#c0c0c0"/>
<rect x="644" y="629" width="1" height="6" fill="#c0c0c0"/>
<rect x="652" y="629" width="1" height="8" fill="#c0c0c0"/>
<rect x="660" y="629" width="1" height="13" fill="#c0c0c0"/>
<rect x="668" y="629" width="1" height="15" fill="#c0c0c0"/>
<rect x="676" y="629" width="1" height="19" fill="#c0c0c0"/>
<rect x="684" y="629" width="1" height="20" fill="#c0c0c0"/>
<rect x="692" y="629" width="1" height="25" fill="#c0c0c0"/>
<rect x="700" y="629" width="1" height="28" fill="#c0c0c0"/>
<rect x="708" y="629" width="1" height="29" fill="#c0c0c0"/>
<rect x="716" y="629" width="1" height="31" fill="#c0c0c0"/>
<rect x="724" y="629" width="1" height="29" fill="#c0c0c0"/>
<rect x="732" y="629" width="1" height="31" fill="#c0c0c0"/>
<rect x="740" y="629" width="1" height="40" fill="#c0c0c0"/>
<rect x="748" y="629" width="1" height="43" fill="#c0c0c0"/>
<rect x="756" y="629" width="1" height="47" fill="#c0c0c0"/>
<rect x="764" y="629" width="1" height="56" fill="#c0c0c0"/>
<rect x="772" y="629" width="1" height="64" fill="#c0c0c0"/>
<rect x="780" y="629" width="1" height="77" fill="#c0c0c0"/>
<rect x="788" y="629" width="1" height="85" fill="#c0c0c0"/>
<rect x="796" y="629" width="1" height="96" fill="#c0c0c0"/>
<rect x="804" y="629" width="1" height="105" fill="#c0c0c0"/>
<rect x="812" y="629" width="1" height="103" fill="#c0c0c0"/>
<rect x="820" y="629" width="1" height="111" fill="#c0c0c0"/>
<rect x="828" y="629" width="1" height="107" fill="#c0c0c0"/>
<rect x="836" y="629" width="1" height="97" fill="#c0c0c0"/>
<rect x="844" y="629" width="1" height="92" fill="#c0c0c0"/>
<rect x="852" y="629" width="1" height="84" fill="#c0c0c0"/>
<rect x="860" y="629" width="1" height="80" fill="#c0c0c0"/>
<rect x="868" y="629" width="1" height="72" fill="#c0c0c0"/>
<rect x="876" y="629" width="1" height="69" fill="#c0c0c0"/>
<rect x="884" y="629" width="1" height="65" fill="#c0c0c0"/>
<rect x="892" y="629" width="1" height="60" fill="#c0c0c0"/>
<rect x="900" y="629" width="1" height="53" fill="#c0c0c0"/>
<rect x="908" y="629" width="1" height="42" fill="#c0c0c0"/>
<rect x="916" y="629" width="1" height="38" fill="#c0c0c0"/>
<rect x="924" y="629" width="1" height="31" fill="#c0c0c0"/>
<rect x="932" y="629" width="1" height="24" fill="#c0c0c0"/>
<rect x="940" y="629" width="1" height="20" fill="#c0c0c0"/>
<rect x="948" y="629" width="1" height="18" fill="#c0c0c0"/>
<rect x="956" y="629" width="1" height="13" fill="#c0c0c0"/>
<rect x="964" y="629" width="1" height="10" fill="#c0c0c0"/>
<rect x="972" y="629" width="1" height="11" fill="#c0c0c0"/>
<rect x="980" y="629" width="1" height="11" fill="#c0c0c0"/>
<rect x="988" y="629" width="1" height="9" fill="#c0c0c0"/>
<rect x="996" y="629" width="1" height="10" fill="#c0c0c0"/>
<rect x="1004" y="629" width="1" height="8" fill="#c0c0c0"/>
<rect x="1012" y="629" width="1" height="3" fill="#c0c0c0"/>
<rect x="1020" y="628" width="1" height="2" fill="#c0c0c0"/>
<rect x="1028" y="629" width="1" height="5" fill="#c0c0c0"/>
<rect x="1036" y="629" width="1" height="6" fill="#c0c0c0"/>
<rect x="1044" y="629" width="1" height="5" fill="#c0c0c0"/>
<rect x="1052" y="629" width="1" height="6" fill="#c0c0c0"/>
<rect x="1060" y="629" width="1" height="4" fill="#c0c0c0"/>
<rect x="1068" y="629" width="1" height="1" fill="#c0c0c0"/>
<rect x="1076" y="628" width="1" height="2" fill="#c0c0c0"/>
<rect x="1084" y="628" width="1" height="2" fill="#c0c0c0"/>
<rect x="1092" y="629" width="1" height="3" fill="#c0c0c0"/>
<rect x="1100" y="629" width="1" height="5" fill="#c0c0c0"/>
<rect x="1108" y="629" width="1" height="5" fill="#c0c0c0"/>
<rect x="1116" y="629" width="1" height="2" fill="#c0c0c0"/>
<rect x="1124" y="627" width="1" height="3" fill="#c0c0c0"/>
<rect x="1132" y="627" width="1" height="3" fill="#c0c0c0"/>
<rect x="1140" y="629" width="1" height="9" fill="#c0c0c0"/>
<rect x="1148" y="629" width="1" height="15" fill="#c0c0c0"/>
<rect x="1156" y="629" width="1" height="16" fill="#c0c0c0"/>
<rect x="1164" y="629" width="1" height="19" fill="#c0c0c0"/>
<rect x="1172" y="629" width="1" height="23" fill="#c0c0c0"/>
<rect x="1180" y="629" width="1" height="26" fill="#c0c0c0"/>
<rect x="1188" y="629" width="1" height="23" fill="#c0c0c0"/>
<rect x="1196" y="629" width="1" height="18" fill="#c0c0c0"/>
<rect x="1204" y="629" width="1" height="11" fill="#c0c0c0"/>
<rect x="1212" y="629" width="1" height="6" fill="#c0c0c0"/>
<rect x="1220" y="627" width="1" height="3" fill="#c0c0c0"/>
<rect x="1228" y="621" width="1" height="9" fill="#c0c0c0"/>
<rect x="1236" y="616" width="1" height="14" fill="#c0c0c0"/>
<rect x="1244" y="611" width="1" height="19" fill="#c0c0c0"/>
<rect x="1252" y="612" width="1" height="18" fill="#c0c0c0"/>
<rect x="1260" y="613" width="1" height="17" fill="#c0c0c0"/>
<rect x="1268" y="618" width="1" height="12" fill="#c0c0c0"/>
<rect x="1276" y="618" width="1" height="12" fill="#c0c0c0"/>
<rect x="1284" y="618" width="1" height="12" fill="#c0c0c0"/>
<rect x="1292" y="618" width="1" height="12" fill="#c0c0c0"/>
<rect x="1300" y="616" width="1" height="14" fill="#c0c0c0"/>
<rect x="1308" y="616" width="1" height="14" fill="#c0c0c0"/>
<rect x="1316" y="613" width="1" height="17" fill="#c0c0c0"/>
<rect x="1324" y="614" width="1" height="16" fill="#c0c0c0"/>
<rect x="1332" y="615" width="1" height="15" fill="#c0c0c0"/>
<rect x="1340" y="619" width="1" height="11" fill="#c0c0c0"/>
<rect x="1348" y="621" width="1" height="9" fill="#c0c0c0"/>
<rect x="1356" y="616" width="1" height="14" fill="#c0c0c0"/>
<rect x="1364" y="612" width="1" height="18" fill="#c0c0c0"/>
<rect x="1372" y="601" width="1" height="29" fill="#c0c0c0"/>
<rect x="1380" y="596" width="1" height="34" fill="#c0c0c0"/>
<rect x="1388" y="592" width="1" height="38" fill="#c0c0c0"/>
<rect x="1396" y="588" width="1" height="42" fill="#c0c0c0"/>
<rect x="1404" y="589" width="1" height="41" fill="#c0c0c0"/>
<rect x="1412" y="590" width="1" height="40" fill="#c0c0c0"/>
<rect x="1420" y="592" width="1" height="38" fill="#c0c0c0"/>
<rect x="1428" y="595" width="1" height="35" fill="#c0c0c0"/>
<rect x="1436" y="601" width="1" height="29" fill="#c0c0c0"/>
<rect x="1444" y="605" width="1" height="25" fill="#c0c0c0"/>
<rect x="1452" y="609" width="1" height="21" fill="#c0c0c0"/>
<rect x="1460" y="608" width="1" height="22" fill="#c0c0c0"/>
</g>
<path d="M1436 594h3v1h-3zM1442 594h3v1h-3zM428 595h3v1h-3zM434 595h3v1h-3zM440 595h3v1h-3zM446 595h3v1h-3zM452 595h3v1h-3zM458 595h3v1h-3zM464 595h3v1h-3zM470 595h3v1h-3zM476 595h3v1h-3zM1430 595h3v1h-3zM1448 595h2v1h-2zM410 596h3v1h-3zM416 596h3v1h-3zM422 596h3v1h-3zM482 596h3v1h-3zM1424 596h3v1h-3zM1450 596h1v1h-1zM1454 596h2v1h-2zM404 597h3v1h-3zM488 597h3v1h-3zM494 597h2v1h-2zM1420 597h1v1h-1zM1456 597h1v1h-1zM1460 597h1v1h-1zM398 598h3v1h-3zM496 598h1v1h-1zM500 598h2v1h-2zM1418 598h2v1h-2zM392 599h3v1h-3zM502 599h1v1h-1zM387 600h2v1h-2zM506 600h1v1h-1zM1414 600h1v1h-1zM386 601h1v1h-1zM507 601h2v1h-2zM1412 601h2v1h-2zM380 602h3v1h-3zM375 603h2v1h-2zM512 603h1v1h-1zM1406 603h3v1h-3zM374 604h1v1h-1zM513 604h2v1h-2zM369 605h2v1h-2zM1401 605h2v1h-2zM368 606h1v1h-1zM518 606h1v1h-1zM1400 606h1v1h-1zM363 607h2v1h-2zM519 607h2v1h-2zM1395 607h2v1h-2zM105 608h2v1h-2zM110 608h3v1h-3zM116 608h3v1h-3zM122 608h3v1h-3zM362 608h1v1h-1zM1394 608h1v1h-1zM99 609h2v1h-2zM104 609h1v1h-1zM128 609h2v1h-2zM358 609h1v1h-1zM524 609h1v1h-1zM1390 609h1v1h-1zM98 610h1v1h-1zM130 610h1v1h-1zM356 610h2v1h-2zM525 610h1v1h-1zM1388 610h2v1h-2zM92 611h3v1h-3zM134 611h3v1h-3zM526 611h1v1h-1zM1383 611h2v1h-2zM87 612h2v1h-2zM140 612h2v1h-2zM352 612h1v1h-1zM1382 612h1v1h-1zM86 613h1v1h-1zM142 613h1v1h-1zM350 613h2v1h-2zM1376 613h3v1h-3zM80 614h3v1h-3zM146 614h1v1h-1zM530 614h2v1h-2zM1371 614h2v1h-2zM75 615h2v1h-2zM147 615h2v1h-2zM346 615h1v1h-1zM532 615h1v1h-1zM1370 615h1v1h-1zM74 616h1v1h-1zM344 616h2v1h-2zM1292 616h3v1h-3zM1298 616h3v1h-3zM1304 616h3v1h-3zM1310 616h3v1h-3zM1316 616h3v1h-3zM1322 616h3v1h-3zM1328 616h3v1h-3zM1334 616h3v1h-3zM1340 616h3v1h-3zM1353 616h2v1h-2zM1358 616h3v1h-3zM1364 616h3v1h-3zM68 617h3v1h-3zM152 617h3v1h-3zM1286 617h3v1h-3zM1346 617h3v1h-3zM1352 617h1v1h-1zM57 618h2v1h-2zM62 618h3v1h-3zM340 618h1v1h-1zM1280 618h3v1h-3zM50 619h3v1h-3zM56 619h1v1h-1zM158 619h2v1h-2zM338 619h2v1h-2zM536 619h2v1h-2zM1275 619h2v1h-2zM44 620h3v1h-3zM160 620h1v1h-1zM538 620h1v1h-1zM1274 620h1v1h-1zM27 621h2v1h-2zM32 621h3v1h-3zM38 621h3v1h-3zM164 621h2v1h-2zM334 621h1v1h-1zM1268 621h3v1h-3zM26 622h1v1h-1zM166 622h1v1h-1zM332 622h2v1h-2zM20 623h3v1h-3zM170 623h1v1h-1zM1262 623h3v1h-3zM15 624h2v1h-2zM171 624h2v1h-2zM328 624h1v1h-1zM542 624h1v1h-1zM9 625h2v1h-2zM14 625h1v1h-1zM176 625h2v1h-2zM326 625h2v1h-2zM543 625h1v1h-1zM1258 625h1v1h-1zM3 626h2v1h-2zM8 626h1v1h-1zM178 626h1v1h-1zM544 626h1v1h-1zM1257 626h1v1h-1zM2 627h1v1h-1zM182 627h3v1h-3zM321 627h2v1h-2zM1256 627h1v1h-1zM188 628h3v1h-3zM194 628h3v1h-3zM200 628h3v1h-3zM206 628h2v1h-2zM320 628h1v1h-1zM208 629h1v1h-1zM212 629h3v1h-3zM218 629h3v1h-3zM315 629h2v1h-2zM548 629h1v1h-1zM1252 629h1v1h-1zM224 630h3v1h-3zM230 630h2v1h-2zM314 630h1v1h-1zM549 630h1v1h-1zM1124 630h3v1h-3zM1130 630h3v1h-3zM1250 630h2v1h-2zM232 631h1v1h-1zM236 631h3v1h-3zM310 631h1v1h-1zM550 631h1v1h-1zM1076 631h3v1h-3zM1082 631h3v1h-3zM1088 631h3v1h-3zM1094 631h2v1h-2zM1106 631h3v1h-3zM1112 631h3v1h-3zM1118 631h3v1h-3zM1136 631h3v1h-3zM1142 631h2v1h-2zM242 632h3v1h-3zM308 632h2v1h-2zM1065 632h2v1h-2zM1070 632h3v1h-3zM1096 632h1v1h-1zM1100 632h3v1h-3zM1144 632h1v1h-1zM1148 632h2v1h-2zM1246 632h1v1h-1zM248 633h3v1h-3zM1058 633h3v1h-3zM1064 633h1v1h-1zM1150 633h1v1h-1zM1244 633h2v1h-2zM254 634h3v1h-3zM302 634h3v1h-3zM554 634h1v1h-1zM1041 634h2v1h-2zM1046 634h3v1h-3zM1052 634h3v1h-3zM1154 634h3v1h-3zM260 635h3v1h-3zM297 635h2v1h-2zM555 635h1v1h-1zM1028 635h3v1h-3zM1034 635h3v1h-3zM1040 635h1v1h-1zM1160 635h2v1h-2zM266 636h3v1h-3zM290 636h3v1h-3zM296 636h1v1h-1zM556 636h1v1h-1zM1022 636h3v1h-3zM1162 636h1v1h-1zM1239 636h2v1h-2zM272 637h3v1h-3zM278 637h3v1h-3zM284 637h3v1h-3zM657 637h2v1h-2zM662 637h3v1h-3zM668 637h3v1h-3zM1016 637h3v1h-3zM1166 637h3v1h-3zM1238 637h1v1h-1zM651 638h2v1h-2zM656 638h1v1h-1zM674 638h3v1h-3zM1011 638h2v1h-2zM1172 638h2v1h-2zM560 639h2v1h-2zM650 639h1v1h-1zM680 639h3v1h-3zM1010 639h1v1h-1zM1174 639h1v1h-1zM1233 639h2v1h-2zM562 640h1v1h-1zM644 640h3v1h-3zM686 640h3v1h-3zM1004 640h3v1h-3zM1178 640h3v1h-3zM1232 640h1v1h-1zM639 641h2v1h-2zM692 641h2v1h-2zM999 641h2v1h-2zM1184 641h2v1h-2zM1227 641h2v1h-2zM566 642h1v1h-1zM638 642h1v1h-1zM694 642h1v1h-1zM998 642h1v1h-1zM1186 642h1v1h-1zM1226 642h1v1h-1zM567 643h1v1h-1zM633 643h2v1h-2zM698 643h3v1h-3zM992 643h3v1h-3zM1190 643h3v1h-3zM1222 643h1v1h-1zM568 644h1v1h-1zM632 644h1v1h-1zM987 644h2v1h-2zM1196 644h2v1h-2zM1220 644h2v1h-2zM627 645h2v1h-2zM704 645h3v1h-3zM986 645h1v1h-1zM1198 645h1v1h-1zM1209 645h2v1h-2zM1214 645h3v1h-3zM572 646h1v1h-1zM626 646h1v1h-1zM982 646h1v1h-1zM1202 646h3v1h-3zM1208 646h1v1h-1zM573 647h2v1h-2zM620 647h3v1h-3zM710 647h2v1h-2zM980 647h2v1h-2zM712 648h1v1h-1zM578 649h1v1h-1zM614 649h3v1h-3zM716 649h2v1h-2zM976 649h1v1h-1zM579 650h2v1h-2zM718 650h1v1h-1zM974 650h2v1h-2zM584 651h2v1h-2zM608 651h3v1h-3zM722 651h3v1h-3zM586 652h1v1h-1zM590 652h2v1h-2zM602 652h3v1h-3zM728 652h2v1h-2zM970 652h1v1h-1zM592 653h1v1h-1zM596 653h3v1h-3zM730 653h1v1h-1zM969 653h1v1h-1zM734 654h2v1h-2zM968 654h1v1h-1zM736 655h1v1h-1zM740 656h2v1h-2zM964 656h1v1h-1zM742 657h1v1h-1zM962 657h2v1h-2zM746 658h1v1h-1zM747 659h2v1h-2zM957 660h2v1h-2zM752 661h3v1h-3zM956 661h1v1h-1zM758 663h2v1h-2zM760 664h1v1h-1zM952 664h1v1h-1zM764 665h1v1h-1zM951 665h1v1h-1zM765 666h2v1h-2zM950 666h1v1h-1zM770 668h1v1h-1zM771 669h2v1h-2zM945 669h2v1h-2zM944 670h1v1h-1zM776 672h2v1h-2zM778 673h1v1h-1zM940 673h1v1h-1zM938 674h2v1h-2zM782 676h2v1h-2zM784 677h1v1h-1zM933 677h2v1h-2zM932 678h1v1h-1zM788 680h1v1h-1zM789 681h1v1h-1zM790 682h1v1h-1zM927 682h2v1h-2zM926 683h1v1h-1zM794 686h1v1h-1zM795 687h1v1h-1zM921 687h2v1h-2zM796 688h1v1h-1zM920 688h1v1h-1zM916 691h1v1h-1zM800 692h1v1h-1zM915 692h1v1h-1zM801 693h1v1h-1zM914 693h1v1h-1zM802 694h1v1h-1zM909 696h2v1h-2zM908 697h1v1h-1zM806 698h1v1h-1zM807 699h1v1h-1zM808 700h1v1h-1zM904 700h1v1h-1zM903 701h1v1h-1zM902 702h1v1h-1zM812 703h1v1h-1zM813 704h1v1h-1zM814 705h1v1h-1zM897 705h2v1h-2zM896 706h1v1h-1zM818 709h1v1h-1zM892 709h1v1h-1zM819 710h1v1h-1zM890 710h2v1h-2zM820 711h1v1h-1zM885 713h2v1h-2zM824 714h1v1h-1zM884 714h1v1h-1zM825 715h1v1h-1zM826 716h1v1h-1zM879 717h2v1h-2zM830 718h1v1h-1zM878 718h1v1h-1zM831 719h1v1h-1zM832 720h1v1h-1zM874 720h1v1h-1zM872 721h2v1h-2zM836 722h2v1h-2zM838 723h1v1h-1zM867 723h2v1h-2zM842 724h1v1h-1zM866 724h1v1h-1zM843 725h2v1h-2zM860 725h3v1h-3zM848 726h3v1h-3zM854 726h3v1h-3z" fill="#ff0000" shape-rendering="crispEdges"/>
<line x1="3" y1="786.5" x2="1687" y2="786.5" stroke="#c0c0c0" stroke-width="1" stroke-dasharray="3,3" shape-rendering="crispEdges"/>
<line x1="3" y1="837.5" x2="1687" y2="837.5" stroke="#c0c0c0" stroke-width="1" stroke-dasharray="3,3" shape-rendering="crispEdges"/>
<line x1="3" y1="898.5" x2="1687" y2="898.5" stroke="#c0c0c0" stroke-width="1" stroke-dasharray="3,3" shape-rendering="crispEdges"/>
<path d="M380 802h1v1h-1zM81 803h4v1h-4zM363 803h2v1h-2zM379 803h1v1h-1zM381 803h1v1h-1zM75 804h6v1h-6zM85 804h1v1h-1zM359 804h4v1h-4zM365 804h2v1h-2zM377 804h2v1h-2zM382 804h1v1h-1zM71 805h4v1h-4zM86 805h1v1h-1zM356 805h3v1h-3zM367 805h1v1h-1zM376 805h1v1h-1zM383 805h1v1h-1zM65 806h6v1h-6zM87 806h1v1h-1zM355 806h1v1h-1zM368 806h2v1h-2zM375 806h1v1h-1zM384 806h2v1h-2zM1372 806h1v1h-1zM60 807h5v1h-5zM88 807h1v1h-1zM354 807h1v1h-1zM370 807h2v1h-2zM373 807h2v1h-2zM386 807h1v1h-1zM436 807h1v1h-1zM1371 807h1v2h-1zM1373 807h1v1h-1zM59 808h1v2h-1zM89 808h1v1h-1zM353 808h1v1h-1zM372 808h1v1h-1zM387 808h1v1h-1zM435 808h1v1h-1zM437 808h1v1h-1zM467 808h2v1h-2zM1374 808h1v1h-1zM90 809h1v1h-1zM351 809h2v1h-2zM388 809h1v1h-1zM433 809h2v1h-2zM438 809h1v1h-1zM465 809h2v1h-2zM469 809h1v2h-1zM1370 809h1v2h-1zM1375 809h1v1h-1zM58 810h1v1h-1zM91 810h1v1h-1zM313 810h4v1h-4zM350 810h1v1h-1zM389 810h1v1h-1zM432 810h1v1h-1zM439 810h1v1h-1zM462 810h3v1h-3zM1376 810h1v1h-1zM57 811h1v1h-1zM92 811h1v2h-1zM308 811h5v1h-5zM317 811h2v1h-2zM331 811h2v1h-2zM349 811h1v1h-1zM390 811h1v2h-1zM431 811h1v1h-1zM440 811h2v1h-2zM460 811h2v1h-2zM470 811h1v2h-1zM1369 811h1v1h-1zM1377 811h1v1h-1zM1395 811h2v1h-2zM56 812h1v2h-1zM292 812h1v1h-1zM306 812h2v1h-2zM319 812h2v1h-2zM329 812h2v1h-2zM333 812h2v1h-2zM347 812h2v1h-2zM429 812h2v1h-2zM442 812h1v1h-1zM458 812h2v1h-2zM1368 812h1v2h-1zM1378 812h1v1h-1zM1391 812h4v1h-4zM1397 812h1v2h-1zM93 813h1v3h-1zM291 813h1v2h-1zM293 813h2v1h-2zM305 813h1v1h-1zM321 813h2v1h-2zM326 813h3v1h-3zM335 813h2v1h-2zM345 813h2v1h-2zM391 813h1v1h-1zM420 813h9v1h-9zM443 813h1v1h-1zM456 813h2v1h-2zM471 813h1v2h-1zM1379 813h1v1h-1zM1385 813h6v1h-6zM55 814h1v1h-1zM295 814h2v1h-2zM303 814h2v1h-2zM323 814h3v1h-3zM337 814h2v1h-2zM342 814h3v1h-3zM392 814h1v1h-1zM419 814h1v2h-1zM444 814h4v1h-4zM454 814h2v1h-2zM1367 814h1v1h-1zM1380 814h5v1h-5zM1398 814h1v1h-1zM54 815h1v1h-1zM290 815h1v2h-1zM297 815h2v1h-2zM301 815h2v1h-2zM339 815h3v1h-3zM393 815h1v1h-1zM404 815h1v1h-1zM448 815h6v1h-6zM472 815h1v2h-1zM1366 815h1v2h-1zM1399 815h1v2h-1zM53 816h1v2h-1zM94 816h1v3h-1zM299 816h2v1h-2zM394 816h1v2h-1zM402 816h2v1h-2zM405 816h1v2h-1zM418 816h1v2h-1zM1243 816h2v1h-2zM289 817h1v2h-1zM400 817h2v1h-2zM473 817h1v2h-1zM1239 817h4v1h-4zM1245 817h1v2h-1zM1365 817h1v2h-1zM1400 817h1v1h-1zM52 818h1v1h-1zM395 818h1v1h-1zM398 818h2v1h-2zM406 818h1v1h-1zM417 818h1v1h-1zM1235 818h4v1h-4zM1401 818h1v2h-1zM50 819h2v1h-2zM95 819h1v3h-1zM288 819h1v2h-1zM396 819h2v1h-2zM407 819h1v1h-1zM416 819h1v2h-1zM474 819h1v2h-1zM1231 819h4v1h-4zM1246 819h1v2h-1zM1363 819h2v1h-2zM48 820h2v1h-2zM408 820h1v2h-1zM1225 820h6v1h-6zM1359 820h4v1h-4zM1402 820h1v1h-1zM46 821h2v1h-2zM287 821h1v2h-1zM415 821h1v1h-1zM475 821h1v2h-1zM1220 821h5v1h-5zM1247 821h1v2h-1zM1356 821h3v1h-3zM1403 821h1v2h-1zM44 822h2v1h-2zM96 822h1v4h-1zM409 822h1v1h-1zM414 822h1v2h-1zM1219 822h1v1h-1zM1316 822h1v1h-1zM1356 822h1v1h-1zM1409 822h4v1h-4zM20 823h1v1h-1zM43 823h1v2h-1zM286 823h1v2h-1zM410 823h1v1h-1zM476 823h1v2h-1zM1217 823h2v1h-2zM1248 823h1v2h-1zM1315 823h1v1h-1zM1317 823h1v1h-1zM1355 823h1v2h-1zM1404 823h5v1h-5zM1413 823h2v1h-2zM19 824h1v1h-1zM21 824h1v1h-1zM411 824h1v2h-1zM413 824h1v2h-1zM1216 824h1v1h-1zM1314 824h1v1h-1zM1318 824h1v2h-1zM1415 824h2v1h-2zM18 825h1v1h-1zM22 825h2v1h-2zM42 825h1v1h-1zM285 825h1v2h-1zM477 825h1v2h-1zM1215 825h1v1h-1zM1249 825h1v2h-1zM1313 825h1v1h-1zM1354 825h1v2h-1zM1417 825h2v1h-2zM17 826h1v1h-1zM24 826h1v1h-1zM41 826h1v2h-1zM97 826h1v3h-1zM412 826h1v1h-1zM1213 826h2v1h-2zM1312 826h1v2h-1zM1319 826h1v1h-1zM1419 826h3v1h-3zM1460 826h1v1h-1zM4 827h2v1h-2zM15 827h2v1h-2zM25 827h1v1h-1zM284 827h1v1h-1zM478 827h1v3h-1zM1209 827h4v1h-4zM1250 827h1v2h-1zM1300 827h1v1h-1zM1320 827h1v1h-1zM1353 827h1v2h-1zM1422 827h4v1h-4zM1459 827h1v2h-1zM2 828h2v1h-2zM6 828h2v1h-2zM14 828h1v1h-1zM26 828h2v1h-2zM40 828h1v1h-1zM283 828h1v1h-1zM1204 828h5v1h-5zM1298 828h2v1h-2zM1301 828h2v1h-2zM1311 828h1v1h-1zM1321 828h1v1h-1zM1426 828h3v1h-3zM1 829h1v1h-1zM8 829h3v1h-3zM13 829h1v1h-1zM28 829h1v1h-1zM39 829h1v2h-1zM98 829h1v3h-1zM282 829h1v2h-1zM1012 829h2v1h-2zM1123 829h2v1h-2zM1202 829h2v1h-2zM1251 829h1v2h-1zM1297 829h1v1h-1zM1303 829h2v1h-2zM1310 829h1v1h-1zM1322 829h1v2h-1zM1352 829h1v2h-1zM1429 829h1v2h-1zM1458 829h1v1h-1zM0 830h1v1h-1zM11 830h2v1h-2zM29 830h2v1h-2zM148 830h1v1h-1zM479 830h1v3h-1zM619 830h2v1h-2zM1011 830h1v1h-1zM1014 830h4v1h-4zM1068 830h1v1h-1zM1119 830h4v1h-4zM1125 830h1v1h-1zM1200 830h2v1h-2zM1295 830h2v1h-2zM1305 830h2v1h-2zM1309 830h1v1h-1zM1457 830h1v1h-1zM31 831h1v1h-1zM38 831h1v1h-1zM147 831h1v2h-1zM149 831h1v1h-1zM180 831h2v1h-2zM281 831h1v1h-1zM615 831h4v1h-4zM621 831h1v2h-1zM1009 831h2v1h-2zM1018 831h3v1h-3zM1067 831h1v1h-1zM1069 831h1v1h-1zM1116 831h3v1h-3zM1126 831h1v1h-1zM1198 831h2v1h-2zM1252 831h2v1h-2zM1281 831h7v1h-7zM1293 831h2v1h-2zM1307 831h2v1h-2zM1323 831h1v1h-1zM1351 831h1v2h-1zM1430 831h1v1h-1zM1456 831h1v2h-1zM32 832h2v1h-2zM37 832h1v2h-1zM99 832h1v3h-1zM150 832h1v1h-1zM179 832h1v2h-1zM182 832h4v1h-4zM193 832h4v1h-4zM280 832h1v1h-1zM596 832h2v1h-2zM611 832h4v1h-4zM1008 832h1v1h-1zM1021 832h1v2h-1zM1065 832h2v1h-2zM1070 832h2v1h-2zM1115 832h1v1h-1zM1127 832h1v1h-1zM1196 832h2v1h-2zM1254 832h2v1h-2zM1276 832h5v1h-5zM1288 832h5v1h-5zM1324 832h2v1h-2zM1431 832h1v1h-1zM34 833h2v1h-2zM146 833h1v1h-1zM151 833h1v1h-1zM186 833h7v1h-7zM197 833h2v1h-2zM279 833h1v1h-1zM480 833h1v2h-1zM594 833h2v1h-2zM598 833h2v1h-2zM609 833h2v1h-2zM622 833h1v1h-1zM908 833h1v1h-1zM931 833h2v1h-2zM956 833h4v1h-4zM1007 833h1v1h-1zM1064 833h1v1h-1zM1072 833h1v1h-1zM1114 833h1v1h-1zM1128 833h2v1h-2zM1195 833h1v1h-1zM1256 833h3v1h-3zM1275 833h1v2h-1zM1326 833h2v1h-2zM1350 833h1v2h-1zM1432 833h1v2h-1zM1455 833h1v1h-1zM36 834h1v1h-1zM145 834h1v1h-1zM152 834h1v1h-1zM178 834h1v1h-1zM199 834h2v1h-2zM278 834h1v2h-1zM492 834h1v1h-1zM592 834h2v1h-2zM600 834h3v1h-3zM606 834h3v1h-3zM623 834h1v1h-1zM907 834h1v1h-1zM909 834h1v1h-1zM927 834h4v1h-4zM933 834h2v1h-2zM954 834h2v1h-2zM960 834h5v1h-5zM1005 834h2v1h-2zM1022 834h1v2h-1zM1063 834h1v1h-1zM1073 834h1v1h-1zM1113 834h1v1h-1zM1130 834h1v1h-1zM1194 834h1v1h-1zM1259 834h2v1h-2zM1328 834h3v1h-3zM1444 834h2v1h-2zM1454 834h1v1h-1zM100 835h1v2h-1zM144 835h1v2h-1zM153 835h1v1h-1zM177 835h1v1h-1zM201 835h2v1h-2zM481 835h1v3h-1zM491 835h1v1h-1zM493 835h1v2h-1zM590 835h2v1h-2zM603 835h3v1h-3zM624 835h1v2h-1zM906 835h1v1h-1zM910 835h1v1h-1zM924 835h3v1h-3zM935 835h1v1h-1zM953 835h1v1h-1zM965 835h1v1h-1zM1004 835h1v1h-1zM1061 835h2v1h-2zM1074 835h2v1h-2zM1112 835h1v1h-1zM1131 835h1v1h-1zM1193 835h1v1h-1zM1261 835h1v1h-1zM1274 835h1v1h-1zM1331 835h2v1h-2zM1349 835h1v2h-1zM1433 835h1v1h-1zM1442 835h2v1h-2zM1446 835h2v1h-2zM1453 835h1v2h-1zM101 836h3v1h-3zM154 836h1v1h-1zM176 836h1v2h-1zM203 836h2v1h-2zM277 836h1v1h-1zM490 836h1v2h-1zM588 836h2v1h-2zM905 836h1v1h-1zM911 836h1v1h-1zM922 836h2v1h-2zM936 836h2v1h-2zM951 836h2v1h-2zM966 836h1v1h-1zM1003 836h1v1h-1zM1023 836h1v2h-1zM1060 836h1v1h-1zM1076 836h4v1h-4zM1111 836h1v1h-1zM1132 836h1v2h-1zM1192 836h1v2h-1zM1262 836h1v2h-1zM1273 836h1v2h-1zM1333 836h1v1h-1zM1434 836h1v1h-1zM1441 836h1v1h-1zM1448 836h3v1h-3zM104 837h5v1h-5zM143 837h1v1h-1zM155 837h1v1h-1zM205 837h1v2h-1zM276 837h1v1h-1zM494 837h1v1h-1zM587 837h1v1h-1zM625 837h1v1h-1zM636 837h1v1h-1zM903 837h2v1h-2zM912 837h2v1h-2zM921 837h1v1h-1zM938 837h2v1h-2zM949 837h2v1h-2zM967 837h1v1h-1zM1002 837h1v1h-1zM1044 837h2v1h-2zM1058 837h2v1h-2zM1080 837h5v1h-5zM1110 837h1v1h-1zM1334 837h2v1h-2zM1348 837h1v1h-1zM1435 837h1v2h-1zM1439 837h2v1h-2zM1451 837h2v1h-2zM109 838h1v2h-1zM142 838h1v1h-1zM156 838h1v1h-1zM175 838h1v1h-1zM275 838h1v1h-1zM482 838h1v3h-1zM489 838h1v1h-1zM495 838h1v1h-1zM586 838h1v2h-1zM626 838h1v1h-1zM634 838h2v1h-2zM637 838h2v1h-2zM902 838h1v1h-1zM914 838h1v1h-1zM919 838h2v1h-2zM940 838h9v1h-9zM968 838h1v1h-1zM987 838h2v1h-2zM1001 838h1v1h-1zM1024 838h1v2h-1zM1042 838h2v1h-2zM1046 838h2v1h-2zM1056 838h2v1h-2zM1085 838h1v1h-1zM1109 838h1v1h-1zM1133 838h1v3h-1zM1191 838h1v1h-1zM1263 838h1v1h-1zM1272 838h1v1h-1zM1336 838h1v1h-1zM1346 838h2v1h-2zM1437 838h2v1h-2zM141 839h1v2h-1zM157 839h1v1h-1zM174 839h1v1h-1zM206 839h1v2h-1zM274 839h1v1h-1zM488 839h1v1h-1zM496 839h1v2h-1zM627 839h1v2h-1zM632 839h2v1h-2zM639 839h2v1h-2zM901 839h1v1h-1zM915 839h1v1h-1zM917 839h2v1h-2zM969 839h1v1h-1zM983 839h4v1h-4zM989 839h2v1h-2zM999 839h2v1h-2zM1040 839h2v1h-2zM1048 839h3v1h-3zM1054 839h2v1h-2zM1086 839h1v1h-1zM1108 839h1v1h-1zM1190 839h1v1h-1zM1264 839h1v1h-1zM1271 839h1v2h-1zM1337 839h1v1h-1zM1344 839h2v1h-2zM1436 839h1v1h-1zM110 840h1v2h-1zM158 840h1v1h-1zM173 840h1v2h-1zM273 840h1v1h-1zM487 840h1v1h-1zM564 840h2v1h-2zM585 840h1v1h-1zM630 840h2v1h-2zM641 840h2v1h-2zM900 840h1v1h-1zM916 840h1v1h-1zM970 840h1v1h-1zM979 840h4v1h-4zM991 840h2v1h-2zM998 840h1v1h-1zM1025 840h1v2h-1zM1038 840h2v1h-2zM1051 840h3v1h-3zM1087 840h1v1h-1zM1106 840h2v1h-2zM1189 840h1v1h-1zM1265 840h1v1h-1zM1338 840h2v1h-2zM1342 840h2v1h-2zM140 841h1v1h-1zM159 841h1v1h-1zM207 841h1v2h-1zM252 841h10v1h-10zM271 841h2v1h-2zM483 841h1v2h-1zM486 841h1v2h-1zM497 841h1v1h-1zM564 841h1v1h-1zM566 841h4v1h-4zM584 841h1v1h-1zM628 841h2v1h-2zM643 841h2v1h-2zM899 841h1v1h-1zM971 841h1v1h-1zM975 841h4v1h-4zM993 841h2v1h-2zM997 841h1v1h-1zM1036 841h2v1h-2zM1088 841h2v1h-2zM1105 841h1v1h-1zM1134 841h1v2h-1zM1188 841h1v1h-1zM1266 841h1v2h-1zM1270 841h1v1h-1zM1340 841h2v1h-2zM111 842h1v2h-1zM139 842h1v2h-1zM160 842h1v2h-1zM172 842h1v1h-1zM251 842h1v1h-1zM262 842h2v1h-2zM270 842h1v1h-1zM498 842h1v1h-1zM563 842h1v2h-1zM570 842h3v1h-3zM583 842h1v1h-1zM645 842h2v1h-2zM898 842h1v1h-1zM972 842h3v1h-3zM995 842h2v1h-2zM1026 842h1v2h-1zM1035 842h1v1h-1zM1090 842h1v1h-1zM1103 842h2v1h-2zM1187 842h1v2h-1zM1269 842h1v2h-1zM170 843h2v1h-2zM208 843h1v1h-1zM250 843h1v1h-1zM264 843h3v1h-3zM269 843h1v1h-1zM484 843h2v1h-2zM499 843h1v2h-1zM507 843h2v1h-2zM573 843h2v1h-2zM582 843h1v2h-1zM647 843h1v1h-1zM868 843h1v1h-1zM897 843h1v1h-1zM1033 843h2v1h-2zM1091 843h1v1h-1zM1101 843h2v1h-2zM1135 843h1v3h-1zM1267 843h1v1h-1zM112 844h1v1h-1zM138 844h1v2h-1zM161 844h1v1h-1zM169 844h1v1h-1zM209 844h1v2h-1zM249 844h1v1h-1zM267 844h2v1h-2zM484 844h1v1h-1zM503 844h4v1h-4zM509 844h1v2h-1zM562 844h1v2h-1zM575 844h2v1h-2zM648 844h2v1h-2zM867 844h1v1h-1zM869 844h1v1h-1zM895 844h2v1h-2zM1027 844h1v2h-1zM1032 844h1v1h-1zM1092 844h9v1h-9zM1186 844h1v1h-1zM1268 844h1v1h-1zM113 845h1v2h-1zM162 845h1v1h-1zM167 845h2v1h-2zM248 845h1v1h-1zM500 845h3v1h-3zM577 845h2v1h-2zM581 845h1v1h-1zM650 845h2v1h-2zM724 845h1v2h-1zM866 845h1v1h-1zM870 845h1v1h-1zM894 845h1v1h-1zM1031 845h1v1h-1zM1156 845h1v1h-1zM1185 845h1v2h-1zM137 846h1v2h-1zM163 846h1v1h-1zM165 846h2v1h-2zM210 846h1v2h-1zM220 846h2v1h-2zM247 846h1v1h-1zM510 846h1v2h-1zM561 846h1v2h-1zM579 846h2v1h-2zM652 846h1v1h-1zM725 846h1v2h-1zM865 846h1v1h-1zM871 846h1v1h-1zM884 846h4v1h-4zM893 846h1v1h-1zM1028 846h3v1h-3zM1136 846h1v3h-1zM1155 846h1v1h-1zM1157 846h1v1h-1zM114 847h1v2h-1zM164 847h1v1h-1zM218 847h2v1h-2zM222 847h4v1h-4zM246 847h1v1h-1zM653 847h1v1h-1zM723 847h1v2h-1zM836 847h1v1h-1zM852 847h1v1h-1zM864 847h1v1h-1zM872 847h2v1h-2zM882 847h2v1h-2zM888 847h5v1h-5zM1028 847h1v1h-1zM1154 847h1v1h-1zM1158 847h2v1h-2zM1184 847h1v1h-1zM136 848h1v2h-1zM211 848h1v2h-1zM216 848h2v1h-2zM226 848h3v1h-3zM245 848h1v1h-1zM511 848h1v2h-1zM560 848h1v2h-1zM654 848h1v2h-1zM726 848h1v2h-1zM835 848h1v1h-1zM837 848h2v1h-2zM850 848h2v1h-2zM853 848h2v1h-2zM863 848h1v1h-1zM874 848h1v1h-1zM880 848h2v1h-2zM1153 848h1v1h-1zM1160 848h1v1h-1zM1183 848h1v2h-1zM115 849h1v2h-1zM214 849h2v1h-2zM229 849h1v1h-1zM244 849h1v1h-1zM722 849h1v2h-1zM834 849h1v2h-1zM839 849h2v1h-2zM848 849h2v1h-2zM855 849h2v1h-2zM862 849h1v1h-1zM875 849h1v1h-1zM878 849h2v1h-2zM1137 849h1v3h-1zM1152 849h1v2h-1zM1161 849h1v1h-1zM135 850h1v2h-1zM212 850h2v1h-2zM230 850h1v1h-1zM243 850h1v1h-1zM512 850h1v2h-1zM559 850h1v2h-1zM655 850h1v1h-1zM727 850h1v1h-1zM841 850h2v1h-2zM846 850h2v1h-2zM857 850h2v1h-2zM861 850h1v1h-1zM876 850h2v1h-2zM1162 850h2v1h-2zM1182 850h1v1h-1zM116 851h2v1h-2zM231 851h1v1h-1zM241 851h2v1h-2zM656 851h1v1h-1zM721 851h1v2h-1zM728 851h1v2h-1zM833 851h1v1h-1zM843 851h3v1h-3zM859 851h2v1h-2zM1151 851h1v1h-1zM1164 851h4v1h-4zM1181 851h1v2h-1zM118 852h2v1h-2zM134 852h1v2h-1zM232 852h2v1h-2zM240 852h1v1h-1zM513 852h1v2h-1zM558 852h1v2h-1zM657 852h1v1h-1zM832 852h1v1h-1zM1138 852h1v2h-1zM1150 852h1v1h-1zM1168 852h8v1h-8zM120 853h3v1h-3zM234 853h1v1h-1zM239 853h1v1h-1zM658 853h1v2h-1zM667 853h2v1h-2zM684 853h1v1h-1zM720 853h1v2h-1zM729 853h1v1h-1zM831 853h1v1h-1zM1149 853h1v1h-1zM1176 853h5v1h-5zM123 854h3v1h-3zM133 854h1v2h-1zM235 854h1v1h-1zM237 854h2v1h-2zM514 854h1v2h-1zM557 854h1v2h-1zM665 854h2v1h-2zM669 854h2v1h-2zM682 854h2v1h-2zM685 854h1v1h-1zM730 854h1v2h-1zM830 854h1v2h-1zM1139 854h1v3h-1zM1148 854h1v1h-1zM126 855h4v1h-4zM236 855h1v1h-1zM548 855h4v1h-4zM659 855h1v1h-1zM662 855h3v1h-3zM671 855h2v1h-2zM680 855h2v1h-2zM686 855h1v2h-1zM719 855h1v2h-1zM1146 855h2v1h-2zM130 856h3v1h-3zM515 856h1v2h-1zM547 856h1v2h-1zM552 856h5v1h-5zM660 856h2v1h-2zM673 856h2v1h-2zM678 856h2v1h-2zM731 856h1v2h-1zM829 856h1v1h-1zM1144 856h2v1h-2zM675 857h3v1h-3zM687 857h1v1h-1zM718 857h1v2h-1zM828 857h1v2h-1zM1140 857h1v2h-1zM1142 857h2v1h-2zM516 858h1v1h-1zM546 858h1v2h-1zM688 858h1v1h-1zM705 858h4v1h-4zM732 858h1v1h-1zM1141 858h1v1h-1zM517 859h1v1h-1zM689 859h1v1h-1zM700 859h5v1h-5zM709 859h2v1h-2zM717 859h1v2h-1zM733 859h1v2h-1zM748 859h1v1h-1zM827 859h1v2h-1zM518 860h1v2h-1zM545 860h1v2h-1zM690 860h1v2h-1zM698 860h2v1h-2zM711 860h2v1h-2zM747 860h1v2h-1zM749 860h2v1h-2zM696 861h2v1h-2zM713 861h2v1h-2zM716 861h1v2h-1zM734 861h1v2h-1zM751 861h2v1h-2zM826 861h1v2h-1zM519 862h1v1h-1zM544 862h1v2h-1zM691 862h1v1h-1zM694 862h2v1h-2zM715 862h1v1h-1zM746 862h1v2h-1zM753 862h2v1h-2zM812 862h1v2h-1zM520 863h1v1h-1zM692 863h2v1h-2zM735 863h1v2h-1zM755 863h2v1h-2zM813 863h1v2h-1zM825 863h1v2h-1zM521 864h1v1h-1zM543 864h1v2h-1zM745 864h1v2h-1zM757 864h1v2h-1zM811 864h1v3h-1zM522 865h1v2h-1zM736 865h1v2h-1zM814 865h1v1h-1zM824 865h1v2h-1zM542 866h1v2h-1zM744 866h1v1h-1zM758 866h1v1h-1zM815 866h1v2h-1zM523 867h1v1h-1zM737 867h1v2h-1zM743 867h1v2h-1zM759 867h1v1h-1zM810 867h1v3h-1zM823 867h1v2h-1zM524 868h4v1h-4zM541 868h1v2h-1zM760 868h1v2h-1zM816 868h1v1h-1zM528 869h8v1h-8zM738 869h1v2h-1zM742 869h1v2h-1zM817 869h1v2h-1zM822 869h1v2h-1zM536 870h5v1h-5zM761 870h1v1h-1zM809 870h1v3h-1zM739 871h1v2h-1zM741 871h1v2h-1zM762 871h1v1h-1zM818 871h1v1h-1zM821 871h1v2h-1zM763 872h1v2h-1zM819 872h1v2h-1zM740 873h1v1h-1zM808 873h1v2h-1zM820 873h1v2h-1zM764 874h2v1h-2zM766 875h4v1h-4zM807 875h1v3h-1zM770 876h3v1h-3zM773 877h1v1h-1zM788 877h1v1h-1zM774 878h1v1h-1zM787 878h1v1h-1zM789 878h1v1h-1zM806 878h1v3h-1zM775 879h1v1h-1zM786 879h1v1h-1zM790 879h1v1h-1zM776 880h1v1h-1zM785 880h1v1h-1zM791 880h1v1h-1zM777 881h1v1h-1zM783 881h2v1h-2zM792 881h2v1h-2zM805 881h1v3h-1zM778 882h1v1h-1zM782 882h1v1h-1zM794 882h1v1h-1zM779 883h1v1h-1zM781 883h1v1h-1zM795 883h1v1h-1zM780 884h1v1h-1zM796 884h4v1h-4zM804 884h1v2h-1zM800 885h4v1h-4z" fill="#1e90ff" shape-rendering="crispEdges"/>
<g shape-rendering="crispEdges">
<rect x="1688" y="45" width="2" height="1" fill="#000"/>
<rect x="1688" y="78" width="2" height="1" fill="#000"/>
<rect x="1688" y="111" width="2" height="1" fill="#000"/>
<rect x="1688" y="144" width="2" height="1" fill="#000"/>
<rect x="1688" y="177" width="2" height="1" fill="#000"/>
<rect x="1688" y="210" width="2" height="1" fill="#000"/>
<rect x="1688" y="309" width="2" height="1" fill="#000"/>
<rect x="1688" y="342" width="2" height="1" fill="#000"/>
<rect x="1688" y="375" width="2" height="1" fill="#000"/>
<rect x="1688" y="408" width="2" height="1" fill="#000"/>
<rect x="1688" y="441" width="2" height="1" fill="#000"/>
<rect x="1688" y="474" width="2" height="1" fill="#000"/>
<rect x="1688" y="507" width="2" height="1" fill="#000"/>
<rect x="1688" y="540" width="2" height="1" fill="#000"/>
<rect x="1688" y="573" width="2" height="1" fill="#000"/>
</g>
<text x="1693.5" y="48.6" font-size="10.2" fill="#000" textLength="32" lengthAdjust="spacingAndGlyphs">29298.0</text>
<text x="1693.5" y="81.6" font-size="10.2" fill="#000" textLength="32" lengthAdjust="spacingAndGlyphs">28770.0</text>
<text x="1693.5" y="114.6" font-size="10.2" fill="#000" textLength="32" lengthAdjust="spacingAndGlyphs">28242.0</text>
<text x="1693.5" y="147.6" font-size="10.2" fill="#000" textLength="32" lengthAdjust="spacingAndGlyphs">27698.0</text>
<text x="1693.5" y="180.6" font-size="10.2" fill="#000" textLength="32" lengthAdjust="spacingAndGlyphs">27170.0</text>
<text x="1693.5" y="213.6" font-size="10.2" fill="#000" textLength="32" lengthAdjust="spacingAndGlyphs">26642.0</text>
<text x="1693.5" y="312.6" font-size="10.2" fill="#000" textLength="32" lengthAdjust="spacingAndGlyphs">25042.0</text>
<text x="1693.5" y="345.6" font-size="10.2" fill="#000" textLength="32" lengthAdjust="spacingAndGlyphs">24514.0</text>
<text x="1693.5" y="378.6" font-size="10.2" fill="#000" textLength="32" lengthAdjust="spacingAndGlyphs">23986.0</text>
<text x="1693.5" y="411.6" font-size="10.2" fill="#000" textLength="32" lengthAdjust="spacingAndGlyphs">23458.0</text>
<text x="1693.5" y="444.6" font-size="10.2" fill="#000" textLength="32" lengthAdjust="spacingAndGlyphs">22914.0</text>
<text x="1693.5" y="477.6" font-size="10.2" fill="#000" textLength="32" lengthAdjust="spacingAndGlyphs">22386.0</text>
<text x="1693.5" y="510.6" font-size="10.2" fill="#000" textLength="32" lengthAdjust="spacingAndGlyphs">21858.0</text>
<text x="1693.5" y="543.6" font-size="10.2" fill="#000" textLength="32" lengthAdjust="spacingAndGlyphs">21330.0</text>
<text x="1693.5" y="576.6" font-size="10.2" fill="#000" textLength="32" lengthAdjust="spacingAndGlyphs">20802.0</text>
<rect x="1689" y="210" width="41" height="11" fill="#ff0000" shape-rendering="crispEdges"/><text x="1693.5" y="219" font-size="10.2" fill="#fff" textLength="32" lengthAdjust="spacingAndGlyphs">26541.4</text>
<rect x="1689" y="240" width="41" height="11" fill="#ff0000" shape-rendering="crispEdges"/><text x="1693.5" y="249" font-size="10.2" fill="#fff" textLength="32" lengthAdjust="spacingAndGlyphs">26059.1</text>
<rect x="1689" y="269" width="41" height="11" fill="#000000" shape-rendering="crispEdges"/><text x="1693.5" y="278" font-size="10.2" fill="#fff" textLength="32" lengthAdjust="spacingAndGlyphs">25605.0</text>
<rect x="1689" y="290" width="41" height="11" fill="#32cd32" shape-rendering="crispEdges"/><text x="1693.5" y="299" font-size="10.2" fill="#fff" textLength="32" lengthAdjust="spacingAndGlyphs">25255.3</text>
<rect x="1689" y="322" width="41" height="11" fill="#0000ff" shape-rendering="crispEdges"/><text x="1693.5" y="331" font-size="10.2" fill="#fff" textLength="32" lengthAdjust="spacingAndGlyphs">24740.9</text>
<rect x="1689" y="351" width="41" height="11" fill="#0000ff" shape-rendering="crispEdges"/><text x="1693.5" y="360" font-size="10.2" fill="#fff" textLength="32" lengthAdjust="spacingAndGlyphs">24274.7</text>
<rect x="0" y="214" width="1" height="5" fill="#ff0000" shape-rendering="crispEdges"/>
<rect x="1682.5" y="214.5" width="4" height="4" fill="#fff" stroke="#ff0000" stroke-width="1" shape-rendering="crispEdges"/>
<text x="1691" y="589" font-size="10.2" fill="#000" textLength="27" lengthAdjust="spacingAndGlyphs">596.11</text>
<g shape-rendering="crispEdges"><rect x="1688" y="629" width="2" height="1" fill="#000"/><rect x="1688" y="786" width="2" height="1" fill="#000"/><rect x="1688" y="837" width="2" height="1" fill="#000"/><rect x="1688" y="898" width="2" height="1" fill="#000"/></g>
<text x="1692" y="633" font-size="10.2" fill="#000" textLength="18" lengthAdjust="spacingAndGlyphs">0.00</text>
<text x="1691" y="745" font-size="10.2" fill="#000" textLength="36" lengthAdjust="spacingAndGlyphs">-1415.19</text>
<text x="1691" y="761" font-size="10.2" fill="#000" textLength="14.7" lengthAdjust="spacingAndGlyphs">100</text>
<text x="1691" y="790" font-size="10.2" fill="#000" textLength="9.5" lengthAdjust="spacingAndGlyphs">80</text>
<text x="1691" y="841" font-size="10.2" fill="#000" textLength="9.5" lengthAdjust="spacingAndGlyphs">50</text>
<text x="1691" y="902" font-size="10.2" fill="#000" textLength="9.5" lengthAdjust="spacingAndGlyphs">15</text>
<text x="1691" y="921" font-size="10.2" fill="#000">0</text>
<text x="0.5" y="591" font-size="10.2" fill="#000" textLength="127.5" lengthAdjust="spacingAndGlyphs">MACD(12,26,9) 260.39 391.99</text>
<text x="0.5" y="763" font-size="10.2" fill="#000" textLength="67.5" lengthAdjust="spacingAndGlyphs">RSI(14) 56.3347</text>
<g shape-rendering="crispEdges">
<rect x="60" y="925" width="1" height="3" fill="#000"/>
<rect x="124" y="925" width="1" height="3" fill="#000"/>
<rect x="188" y="925" width="1" height="3" fill="#000"/>
<rect x="252" y="925" width="1" height="3" fill="#000"/>
<rect x="316" y="925" width="1" height="3" fill="#000"/>
<rect x="380" y="925" width="1" height="3" fill="#000"/>
<rect x="444" y="925" width="1" height="3" fill="#000"/>
<rect x="508" y="925" width="1" height="3" fill="#000"/>
<rect x="572" y="925" width="1" height="3" fill="#000"/>
<rect x="636" y="925" width="1" height="3" fill="#000"/>
<rect x="700" y="925" width="1" height="3" fill="#000"/>
<rect x="764" y="925" width="1" height="3" fill="#000"/>
<rect x="828" y="925" width="1" height="3" fill="#000"/>
<rect x="892" y="925" width="1" height="3" fill="#000"/>
<rect x="956" y="925" width="1" height="3" fill="#000"/>
<rect x="1020" y="925" width="1" height="3" fill="#000"/>
<rect x="1084" y="925" width="1" height="3" fill="#000"/>
<rect x="1148" y="925" width="1" height="3" fill="#000"/>
<rect x="1212" y="925" width="1" height="3" fill="#000"/>
<rect x="1276" y="925" width="1" height="3" fill="#000"/>
<rect x="1340" y="925" width="1" height="3" fill="#000"/>
<rect x="1404" y="925" width="1" height="3" fill="#000"/>
</g>
<g transform="translate(-4.5,937.4) scale(0.93,1)"><text x="0" y="0" font-size="10.2" fill="#000">23 Oct 2019</text></g>
<g transform="translate(59.5,937.4) scale(0.93,1)"><text x="0" y="0" font-size="10.2" fill="#000">4 Nov 2019</text></g>
<g transform="translate(123.5,937.4) scale(0.93,1)"><text x="0" y="0" font-size="10.2" fill="#000">14 Nov 2019</text></g>
<g transform="translate(187.5,937.4) scale(0.93,1)"><text x="0" y="0" font-size="10.2" fill="#000">26 Nov 2019</text></g>
<g transform="translate(251.5,937.4) scale(0.93,1)"><text x="0" y="0" font-size="10.2" fill="#000">6 Dec 2019</text></g>
<g transform="translate(315.5,937.4) scale(0.93,1)"><text x="0" y="0" font-size="10.2" fill="#000">18 Dec 2019</text></g>
<g transform="translate(379.5,937.4) scale(0.93,1)"><text x="0" y="0" font-size="10.2" fill="#000">2 Jan 2020</text></g>
<g transform="translate(443.5,937.4) scale(0.93,1)"><text x="0" y="0" font-size="10.2" fill="#000">14 Jan 2020</text></g>
<g transform="translate(507.5,937.4) scale(0.93,1)"><text x="0" y="0" font-size="10.2" fill="#000">24 Jan 2020</text></g>
<g transform="translate(571.5,937.4) scale(0.93,1)"><text x="0" y="0" font-size="10.2" fill="#000">7 Feb 2020</text></g>
<g transform="translate(635.5,937.4) scale(0.93,1)"><text x="0" y="0" font-size="10.2" fill="#000">19 Feb 2020</text></g>
<g transform="translate(699.5,937.4) scale(0.93,1)"><text x="0" y="0" font-size="10.2" fill="#000">2 Mar 2020</text></g>
<g transform="translate(763.5,937.4) scale(0.93,1)"><text x="0" y="0" font-size="10.2" fill="#000">12 Mar 2020</text></g>
<g transform="translate(827.5,937.4) scale(0.93,1)"><text x="0" y="0" font-size="10.2" fill="#000">24 Mar 2020</text></g>
<g transform="translate(891.5,937.4) scale(0.93,1)"><text x="0" y="0" font-size="10.2" fill="#000">3 Apr 2020</text></g>
<g transform="translate(955.5,937.4) scale(0.93,1)"><text x="0" y="0" font-size="10.2" fill="#000">17 Apr 2020</text></g>
<g transform="translate(1019.5,937.4) scale(0.93,1)"><text x="0" y="0" font-size="10.2" fill="#000">29 Apr 2020</text></g>
<g transform="translate(1083.5,937.4) scale(0.93,1)"><text x="0" y="0" font-size="10.2" fill="#000">13 May 2020</text></g>
<g transform="translate(1147.5,937.4) scale(0.93,1)"><text x="0" y="0" font-size="10.2" fill="#000">25 May 2020</text></g>
<g transform="translate(1211.5,937.4) scale(0.93,1)"><text x="0" y="0" font-size="10.2" fill="#000">4 Jun 2020</text></g>
<g transform="translate(1275.5,937.4) scale(0.93,1)"><text x="0" y="0" font-size="10.2" fill="#000">16 Jun 2020</text></g>
<g transform="translate(1339.5,937.4) scale(0.93,1)"><text x="0" y="0" font-size="10.2" fill="#000">29 Jun 2020</text></g>
<g transform="translate(1403.5,937.4) scale(0.93,1)"><text x="0" y="0" font-size="10.2" fill="#000">10 Jul 2020</text></g>
<polygon points="0,34.4 3.1,30.6 6.2,34.4" fill="#000"/>
<text x="11.5" y="34.6" font-size="9.9" fill="#000" textLength="50" lengthAdjust="spacingAndGlyphs">HK50-,Daily</text>
<text x="68.5" y="34.6" font-size="9.9" fill="#000" textLength="140.5" lengthAdjust="spacingAndGlyphs">25386.0 25631.0 25332.0 25605.0</text>
<defs>
<linearGradient id="gt" x1="0" y1="0" x2="0" y2="1"><stop offset="0" stop-color="#fb5252"/><stop offset="1" stop-color="#e23434"/></linearGradient>
<linearGradient id="gb" x1="0" y1="0" x2="0" y2="1"><stop offset="0" stop-color="#df3030"/><stop offset="0.55" stop-color="#c81818"/><stop offset="1" stop-color="#b00404"/></linearGradient>
<linearGradient id="gs" x1="0" y1="0" x2="0" y2="1"><stop offset="0" stop-color="#f4f4f4"/><stop offset="0.45" stop-color="#e4e4e4"/><stop offset="0.5" stop-color="#d6d6d6"/><stop offset="1" stop-color="#cfcfcf"/></linearGradient>
</defs>
<g shape-rendering="crispEdges">
<rect x="0" y="43" width="51" height="25" fill="url(#gt)"/>
<rect x="166" y="43" width="52" height="25" fill="url(#gt)"/>
<rect x="0" y="67" width="108" height="40" fill="url(#gb)"/>
<rect x="110" y="67" width="108" height="40" fill="url(#gb)"/>
<rect x="0" y="43" width="51" height="1" fill="#c82020"/><rect x="50" y="43" width="1" height="24" fill="#c01818"/>
<rect x="166" y="43" width="52" height="1" fill="#c82020"/><rect x="166" y="43" width="1" height="24" fill="#c01818"/><rect x="217" y="43" width="1" height="64" fill="#a80808"/>
<rect x="107" y="67" width="1" height="40" fill="#a80808"/>
<rect x="3" y="66" width="44" height="1" fill="#8c0000"/>
<rect x="3" y="67" width="44" height="1" fill="#f06464"/>
<rect x="170" y="66" width="44" height="1" fill="#8c0000"/>
<rect x="170" y="67" width="44" height="1" fill="#f06464"/>
<rect x="53.5" y="43.5" width="110" height="21" fill="#fff" stroke="#a4a9b0" stroke-width="1"/>
<rect x="54" y="44" width="20" height="20" fill="url(#gs)"/>
<rect x="143" y="44" width="20" height="20" fill="url(#gs)"/>
<rect x="74" y="44" width="1" height="20" fill="#a4a9b0"/>
<rect x="142" y="44" width="1" height="20" fill="#a4a9b0"/>
</g>
<polygon points="61,52 66.5,52 63.75,55" fill="#4a5cc0"/>
<polygon points="149.5,55 155,55 152.25,52" fill="#4a5cc0"/>
<text x="11.5" y="58.6" font-size="12" fill="#fff" textLength="25.5" lengthAdjust="spacingAndGlyphs">SELL</text>
<text x="179.5" y="58.6" font-size="12" fill="#fff" textLength="23.5" lengthAdjust="spacingAndGlyphs">BUY</text>
<text x="138.8" y="58" font-size="12.4" fill="#000" text-anchor="end">1.00</text>
<text x="15.2" y="98" font-size="12.5" fill="#fff" textLength="34" lengthAdjust="spacingAndGlyphs" font-weight="bold">25603</text>
<text x="125.2" y="98" font-size="12.5" fill="#fff" textLength="34" lengthAdjust="spacingAndGlyphs" font-weight="bold">25620</text>
<rect x="54.2" y="94.3" width="3.8" height="3.8" fill="#fff"/><rect x="165" y="94.3" width="3.8" height="3.8" fill="#fff"/>
<text x="60.5" y="98" font-size="34" fill="#fff" textLength="17" lengthAdjust="spacingAndGlyphs">5</text>
<text x="171.5" y="98" font-size="34" fill="#fff" textLength="17" lengthAdjust="spacingAndGlyphs">5</text>
<polygon points="1460.6,24 1470.4,24 1465.5,29.2" fill="#c0c0c0"/>
<g>
<clipPath id="tbclip"><rect x="0" y="0" width="1734" height="18"/></clipPath>
<g clip-path="url(#tbclip)">
<rect x="323" y="0" width="24" height="17" fill="#f8f8f8"/>
<rect x="475" y="0" width="24" height="17" fill="#f8f8f8"/>
<rect x="503" y="0" width="24" height="17" fill="#f8f8f8"/>
<rect x="663" y="0" width="24" height="17" fill="#f8f8f8"/>
<rect x="1137" y="0" width="24" height="17" fill="#f8f8f8"/>
<rect x="284" y="0" width="1" height="19" fill="#a0a0a0" shape-rendering="crispEdges"/><rect x="285" y="0" width="1" height="19" fill="#fff" shape-rendering="crispEdges"/>
<rect x="652" y="0" width="1" height="19" fill="#a0a0a0" shape-rendering="crispEdges"/><rect x="653" y="0" width="1" height="19" fill="#fff" shape-rendering="crispEdges"/>
<rect x="958" y="0" width="1" height="19" fill="#a0a0a0" shape-rendering="crispEdges"/><rect x="959" y="0" width="1" height="19" fill="#fff" shape-rendering="crispEdges"/>
<rect x="1219" y="0" width="1" height="19" fill="#a0a0a0" shape-rendering="crispEdges"/><rect x="1220" y="0" width="1" height="19" fill="#fff" shape-rendering="crispEdges"/>
<rect x="48" y="0" width="1" height="17" fill="#a0a0a0" shape-rendering="crispEdges"/>
<rect x="322" y="0" width="1" height="17" fill="#a0a0a0" shape-rendering="crispEdges"/>
<rect x="379" y="0" width="1" height="17" fill="#a0a0a0" shape-rendering="crispEdges"/>
<rect x="469" y="0" width="1" height="17" fill="#a0a0a0" shape-rendering="crispEdges"/>
<rect x="474" y="0" width="1" height="17" fill="#a0a0a0" shape-rendering="crispEdges"/>
<rect x="502" y="0" width="1" height="17" fill="#a0a0a0" shape-rendering="crispEdges"/>
<rect x="531" y="0" width="1" height="17" fill="#a0a0a0" shape-rendering="crispEdges"/>
<rect x="662" y="0" width="1" height="17" fill="#a0a0a0" shape-rendering="crispEdges"/>
<rect x="719" y="0" width="1" height="17" fill="#a0a0a0" shape-rendering="crispEdges"/>
<rect x="1136" y="0" width="1" height="17" fill="#a0a0a0" shape-rendering="crispEdges"/>
<rect x="288" y="1" width="3" height="1" fill="#a8a8a8" shape-rendering="crispEdges"/>
<rect x="288" y="3" width="3" height="1" fill="#a8a8a8" shape-rendering="crispEdges"/>
<rect x="288" y="5" width="3" height="1" fill="#a8a8a8" shape-rendering="crispEdges"/>
<rect x="288" y="7" width="3" height="1" fill="#a8a8a8" shape-rendering="crispEdges"/>
<rect x="288" y="9" width="3" height="1" fill="#a8a8a8" shape-rendering="crispEdges"/>
<rect x="288" y="11" width="3" height="1" fill="#a8a8a8" shape-rendering="crispEdges"/>
<rect x="288" y="13" width="3" height="1" fill="#a8a8a8" shape-rendering="crispEdges"/>
<rect x="288" y="15" width="3" height="1" fill="#a8a8a8" shape-rendering="crispEdges"/>
<rect x="656" y="1" width="3" height="1" fill="#a8a8a8" shape-rendering="crispEdges"/>
<rect x="656" y="3" width="3" height="1" fill="#a8a8a8" shape-rendering="crispEdges"/>
<rect x="656" y="5" width="3" height="1" fill="#a8a8a8" shape-rendering="crispEdges"/>
<rect x="656" y="7" width="3" height="1" fill="#a8a8a8" shape-rendering="crispEdges"/>
<rect x="656" y="9" width="3" height="1" fill="#a8a8a8" shape-rendering="crispEdges"/>
<rect x="656" y="11" width="3" height="1" fill="#a8a8a8" shape-rendering="crispEdges"/>
<rect x="656" y="13" width="3" height="1" fill="#a8a8a8" shape-rendering="crispEdges"/>
<rect x="656" y="15" width="3" height="1" fill="#a8a8a8" shape-rendering="crispEdges"/>
<rect x="962" y="1" width="3" height="1" fill="#a8a8a8" shape-rendering="crispEdges"/>
<rect x="962" y="3" width="3" height="1" fill="#a8a8a8" shape-rendering="crispEdges"/>
<rect x="962" y="5" width="3" height="1" fill="#a8a8a8" shape-rendering="crispEdges"/>
<rect x="962" y="7" width="3" height="1" fill="#a8a8a8" shape-rendering="crispEdges"/>
<rect x="962" y="9" width="3" height="1" fill="#a8a8a8" shape-rendering="crispEdges"/>
<rect x="962" y="11" width="3" height="1" fill="#a8a8a8" shape-rendering="crispEdges"/>
<rect x="962" y="13" width="3" height="1" fill="#a8a8a8" shape-rendering="crispEdges"/>
<rect x="962" y="15" width="3" height="1" fill="#a8a8a8" shape-rendering="crispEdges"/>
<rect x="-2" y="-3" width="12.2" height="16.2" fill="#fff" stroke="#3a7cc6" stroke-width="1.4"/>
<rect x="0" y="2.5" width="9" height="0.8" fill="#b8d0f0"/>
<rect x="0" y="5.5" width="9" height="0.8" fill="#b8d0f0"/>
<rect x="0" y="8.5" width="9" height="0.8" fill="#b8d0f0"/>
<rect x="0" y="2" width="1.2" height="1.2" fill="#e02020"/><rect x="0" y="5" width="1.2" height="1.2" fill="#303030"/><rect x="0" y="8" width="1.2" height="1.2" fill="#e02020"/>
<rect x="23.5" y="-2" width="12" height="14.3" fill="#fafafa" stroke="#9a9a9a" stroke-width="0.8"/>
<path d="M26.5 0.5v4M33 0.5v3" stroke="#8090a8" stroke-width="0.8" fill="none"/>
<line x1="34.8" y1="11.6" x2="39.8" y2="15.6" stroke="#c09a20" stroke-width="2.6" stroke-linecap="round"/>
<circle cx="31.3" cy="7.6" r="4.8" fill="#cfe0f4" fill-opacity="0.9" stroke="#5b8fd8" stroke-width="1.1"/>
<rect x="30" y="5" width="2.4" height="5" fill="#9fb4cc" opacity="0.8"/>
<path d="M22.2 11.7h2.6M23.5 10.4v2.6" stroke="#000" stroke-width="1"/>
<path d="M58.5 -1h8l3.4 3.2v10.2h-11.4z" fill="#fbfbfb" stroke="#8c8c8c" stroke-width="0.9"/>
<path d="M60.3 2h3.2M60.3 5.5h6.5M60.3 7.5h5" stroke="#9a9a9a" stroke-width="0.9" fill="none"/>
<path d="M66.5 6h3.4v3.3h3.9v3.4h-3.9v3.7h-3.4v-3.7h-3.9v-3.4h3.9z" fill="#25c425" stroke="#0c8412" stroke-width="0.8"/>
<path d="M68.2 7v8M63.800000000000004 11h8.8" stroke="#9af29a" stroke-width="0.9" fill="none" opacity="0.75"/>
<defs><linearGradient id="gold" x1="0" y1="0" x2="1" y2="1"><stop offset="0" stop-color="#f8d850"/><stop offset="0.5" stop-color="#e8b020"/><stop offset="1" stop-color="#b07a10"/></linearGradient></defs>
<path d="M129.5 -2L140.8 7.6 134.2 14.6 125 8.6z" fill="url(#gold)" stroke="#a87010" stroke-width="1"/>
<path d="M134.2 13.4L140 7.8" stroke="#fff0b0" stroke-width="0.8" opacity="0.7"/>
<rect x="155.2" y="-2" width="10.6" height="10" fill="#3b9cf2" stroke="#2278d4" stroke-width="0.8"/>
<path d="M158.6 -1v8" stroke="#e4f2ff" stroke-width="1.6"/><rect x="160.2" y="1.6" width="5" height="2.4" fill="#eef7ff"/><rect x="160.2" y="5" width="5" height="1.2" fill="#cfe6ff"/>
<path d="M156.4 14.6c-4.2 0-4.4-4.8-0.8-5.2 0.4-3.2 5-3.8 6.2-1 2.2-1.8 5.6-0.2 5.2 2.4 3.2 0.2 3.2 3.8 0.4 3.8z" fill="#eef2fa" stroke="#6f8cc4" stroke-width="1"/>
<path d="M188.9 -0.7000000000000002a7.4 7.4 0 0 0 0 14.8" fill="none" stroke="#3f6fd0" stroke-width="1.1" opacity="0.5"/>
<path d="M188.9 -0.7000000000000002a7.4 7.4 0 0 1 0 14.8" fill="none" stroke="#5aa860" stroke-width="1.6" opacity="0.4"/>
<path d="M188.9 2.1000000000000005a4.6 4.6 0 0 0 0 9.2" fill="none" stroke="#3f6fd0" stroke-width="1.1" opacity="0.9"/>
<path d="M188.9 2.1000000000000005a4.6 4.6 0 0 1 0 9.2" fill="none" stroke="#5aa860" stroke-width="1.6" opacity="0.7200000000000001"/>
<circle cx="188.9" cy="6.6" r="1.7" fill="#2a5fd0"/>
<rect x="188.2" y="7.2" width="1.6" height="7.3" fill="#1fb01f"/>
<path d="M208.4 7.2L216.3 14.4 223.5 6z" fill="#f6d24a" stroke="#d4a820" stroke-width="0.8"/>
<path d="M208.2 4.2c1-2.4 4-3.4 5.2-3.4l1-3h3.4l1 3c2 0.2 4.4 1.2 5 3 -3 2.4-12.6 2.6-15.6 0.4z" fill="#6ab4e8" stroke="#3c8ccc" stroke-width="0.8"/>
<circle cx="220.4" cy="10.7" r="4.1" fill="#e0220e" stroke="#b01406" stroke-width="0.6"/><rect x="219" y="9.3" width="2.8" height="2.8" fill="#fff"/>
<path d="M302.3 1.5V14.7M299.90000000000003 12.4H313.1" stroke="#555" stroke-width="1.2" fill="none"/>
<path d="M300.5 3.6L302.3 1 304.1 3.6z M311.3 10.6L313.90000000000003 12.4 311.3 14.2z" fill="#555"/>
<path d="M308.6 2.6V10.2M308.6 3.2h2.6M306 9.6h2.6" stroke="#1c9a1c" stroke-width="1.3" fill="none"/>
<path d="M330.4 1.5V14.7M328.0 12.4H341.2" stroke="#555" stroke-width="1.2" fill="none"/>
<path d="M328.59999999999997 3.6L330.4 1 332.2 3.6z M339.4 10.6L342.0 12.4 339.4 14.2z" fill="#555"/>
<path d="M336.5 -1V11" stroke="#108010" stroke-width="1.2"/><rect x="334.2" y="1.8" width="4.8" height="6.6" fill="#2ce02c" stroke="#138a13" stroke-width="0.9"/>
<path d="M358.4 1.5V14.7M356.0 12.4H369.2" stroke="#555" stroke-width="1.2" fill="none"/>
<path d="M356.59999999999997 3.6L358.4 1 360.2 3.6z M367.4 10.6L370.0 12.4 367.4 14.2z" fill="#555"/>
<path d="M357 9.6c3-1.6 3.6-5.2 6.2-5.2 2 0 3.2 3 5.6 3.6" stroke="#2a9a2a" stroke-width="1.3" fill="none"/>
<line x1="398.29999999999995" y1="9.6" x2="403.29999999999995" y2="13.3" stroke="#9c7a14" stroke-width="3.6" stroke-linecap="butt"/>
<line x1="398.5" y1="9.75" x2="403.09999999999997" y2="13.15" stroke="#e6c23a" stroke-width="2.2" stroke-linecap="butt"/>
<circle cx="393.9" cy="4.9" r="5.5" fill="#d4eafc" stroke="#2f74c8" stroke-width="1.2"/>
<path d="M390.9 4.9h6M393.9 1.9v6" stroke="#3f82b4" stroke-width="1.8" fill="none"/>
<line x1="426.4" y1="9.6" x2="431.4" y2="13.3" stroke="#9c7a14" stroke-width="3.6" stroke-linecap="butt"/>
<line x1="426.6" y1="9.75" x2="431.2" y2="13.15" stroke="#e6c23a" stroke-width="2.2" stroke-linecap="butt"/>
<circle cx="422" cy="4.9" r="5.5" fill="#d4eafc" stroke="#2f74c8" stroke-width="1.2"/>
<path d="M419 4.9h6" stroke="#3f82b4" stroke-width="1.8" fill="none"/>
<rect x="444" y="-1" width="8" height="7.6" fill="#4aa624"/>
<path d="M445.6 5.6v-3.4h4.8v3.4M446.4 3.3999999999999995h3.2" stroke="#fff" stroke-width="1.1" fill="none"/>
<rect x="444.8" y="-0.4" width="1" height="0.9" fill="#c8f0b0"/>
<rect x="452" y="-1" width="8" height="7.6" fill="#2a5cd8"/>
<path d="M453.6 5.6v-3.4h4.8v3.4M454.4 3.3999999999999995h3.2" stroke="#fff" stroke-width="1.1" fill="none"/>
<rect x="452.8" y="-0.4" width="1" height="0.9" fill="#c0d4ff"/>
<rect x="444" y="7.3" width="8" height="7.3" fill="#2a5cd8"/>
<path d="M445.6 13.6v-3.4h4.8v3.4M446.4 11.399999999999999h3.2" stroke="#fff" stroke-width="1.1" fill="none"/>
<rect x="444.8" y="7.8999999999999995" width="1" height="0.9" fill="#c0d4ff"/>
<rect x="452" y="7.3" width="8" height="7.3" fill="#4aa624"/>
<path d="M453.6 13.6v-3.4h4.8v3.4M454.4 11.399999999999999h3.2" stroke="#fff" stroke-width="1.1" fill="none"/>
<rect x="452.8" y="7.8999999999999995" width="1" height="0.9" fill="#c8f0b0"/>
<path d="M482.5 1.5V14.7M480.1 12.4H493.3" stroke="#555" stroke-width="1.2" fill="none"/>
<path d="M480.7 3.6L482.5 1 484.3 3.6z M491.5 10.6L494.1 12.4 491.5 14.2z" fill="#555"/>
<path d="M487.2 3.2V10L491.2 6.6z" fill="#7fe07f" stroke="#1fa51f" stroke-width="1"/>
<path d="M510.2 1.5V14.7M507.8 12.4H521.0" stroke="#555" stroke-width="1.2" fill="none"/>
<path d="M508.4 3.6L510.2 1 512.0 3.6z M519.2 10.6L521.8 12.4 519.2 14.2z" fill="#555"/>
<path d="M516.6 1V10.8" stroke="#2a80c0" stroke-width="1.4"/>
<path d="M522 6.5h-3.6" stroke="#e04a00" stroke-width="1.2"/><path d="M517.4 6.5l2.8-2v4z" fill="#e04a00"/>
<path d="M541.5 -1h8l3.4 3.2v10.2h-11.4z" fill="#fbfbfb" stroke="#8c8c8c" stroke-width="0.9"/>
<path d="M543.3 2h3.2M543.3 5.5h6.5M543.3 7.5h5" stroke="#9a9a9a" stroke-width="0.9" fill="none"/>
<path d="M549.3 6h3.4v3.3h3.9v3.4h-3.9v3.7h-3.4v-3.7h-3.9v-3.4h3.9z" fill="#25c425" stroke="#0c8412" stroke-width="0.8"/>
<path d="M551 7v8M546.6 11h8.8" stroke="#9af29a" stroke-width="0.9" fill="none" opacity="0.75"/>
<path d="M562.8 6h5.4l-2.7 3.1z" fill="#000"/>
<defs><linearGradient id="clk" x1="0" y1="0" x2="0.6" y2="1"><stop offset="0" stop-color="#3a8cf0"/><stop offset="1" stop-color="#1450b0"/></linearGradient></defs>
<circle cx="587.2" cy="6.7" r="6.8" fill="#f2f4f8" stroke="url(#clk)" stroke-width="2.6"/>
<rect x="585" y="-2" width="4.4" height="2.4" fill="#246fd2"/>
<path d="M587 2.6V6.9H590.4" stroke="#333" stroke-width="1.1" fill="none"/>
<path d="M587.2 1.6v0.8M587.2 11v0.8M582.2 6.7h0.8M591.4 6.7h0.8" stroke="#8aa0c0" stroke-width="0.9"/>
<path d="M601.9 6h5.4l-2.7 3.1z" fill="#000"/>
<rect x="618.6" y="-1" width="15.2" height="14.4" fill="#fff" stroke="#3572c4" stroke-width="1.2"/>
<rect x="619" y="0" width="14.4" height="1.8" fill="#4d8ad8"/><rect x="619.2" y="7.6" width="14" height="0.9" fill="#a8c4ec"/>
<path d="M620.6 6.2l1.8 0 1.6-1.4 1.8 0.8 1.8-1.4 1.8 1 2.2-1" stroke="#a52a0a" stroke-width="1.2" fill="none"/>
<path d="M621.4 11.6l1.8-0.8 1.8 0.8 2-1.2 1.6 1 1.6-2 2 2.4" stroke="#1f9a1f" stroke-width="1.2" fill="none"/>
<path d="M640.8 6h5.4l-2.7 3.1z" fill="#000"/>
<path d="M670.1 -1V10L672.8 8.6 675.1 13.8 676.9 13 674.5 8 678.2 7.4z" fill="#555"/>
<path d="M695.2 7.4H701M704 7.4H710.2M702.6 -1V5.6M702.6 9.2V14.8" stroke="#555" stroke-width="1.3" fill="none"/>
<path d="M736.4 1V13.8M759 7.4H771M786.8 14L799.2 1.8" stroke="#555" stroke-width="1.3" fill="none"/>
<path d="M813.2 8.8L821 1.2M815.6 11.4L824.2 3.2M818 13.8L827 5.4" stroke="#555" stroke-width="1.1" fill="none"/>
<path d="M815.4 6.8l1 5M817.8 4.6l1.2 6M820.4 2.2l1.2 6.4M823 0l1 6" stroke="#555" stroke-width="0.8" fill="none"/>
<path d="M827.6 11.4h-3.2v4.2h3.2M824.4 13.5h2.6" stroke="#333" stroke-width="1.1" fill="none"/>
<line x1="842" y1="0.4" x2="855.5" y2="0.4" stroke="#555" stroke-width="1" stroke-dasharray="1,1"/>
<line x1="842" y1="3.3" x2="855.5" y2="3.3" stroke="#555" stroke-width="1" stroke-dasharray="1,1"/>
<line x1="842" y1="7.4" x2="855.5" y2="7.4" stroke="#555" stroke-width="1" stroke-dasharray="1,1"/>
<line x1="842" y1="11.4" x2="851" y2="11.4" stroke="#555" stroke-width="1" stroke-dasharray="1,1"/>
<path d="M855.6 11.4h-3.2v4.4M852.4 13.5h2.6" stroke="#333" stroke-width="1.1" fill="none"/>
<path d="M873.2 12L876.5 3.2 879.8 12M874.4 9.2h4.2" stroke="#5a5a5a" stroke-width="1.6" fill="none"/>
<rect x="899.4" y="1.2" width="11" height="12.2" fill="none" stroke="#555" stroke-width="1" stroke-dasharray="1,1"/>
<path d="M898.6 0.3h1.8" stroke="#555" stroke-width="1.2"/>
<path d="M900.8 4.6h8.4M905 4.6V12" stroke="#555" stroke-width="1.6" fill="none"/>
<path d="M926.2 4.8L929.4 1.2 932.6 4.8 929.4 5.6zM933.2 10.2L936.6 14 940 10.2 936.6 9.4z" fill="#555"/>
<path d="M928 8.6l2.2 2.2 4.2-5.2" stroke="#555" stroke-width="1.5" fill="none"/>
<path d="M946.7 6h5.4l-2.7 3.1z" fill="#000"/>
<text x="973.3000000000001" y="10.9" font-size="9.9" fill="#3c3c3c" textLength="13.3" lengthAdjust="spacingAndGlyphs">M1</text>
<text x="1001.2" y="10.9" font-size="9.9" fill="#3c3c3c" textLength="13.7" lengthAdjust="spacingAndGlyphs">M5</text>
<text x="1027.1999999999998" y="10.9" font-size="9.9" fill="#3c3c3c" textLength="18.3" lengthAdjust="spacingAndGlyphs">M15</text>
<text x="1055.1999999999998" y="10.9" font-size="9.9" fill="#3c3c3c" textLength="18.2" lengthAdjust="spacingAndGlyphs">M30</text>
<text x="1086.3" y="10.9" font-size="9.9" fill="#3c3c3c" textLength="11.9" lengthAdjust="spacingAndGlyphs">H1</text>
<text x="1113.1999999999998" y="10.9" font-size="9.9" fill="#3c3c3c" textLength="13.1" lengthAdjust="spacingAndGlyphs">H4</text>
<text x="1142.1999999999998" y="10.9" font-size="9.9" fill="#3c3c3c" textLength="12.4" lengthAdjust="spacingAndGlyphs">D1</text>
<text x="1169.5" y="10.9" font-size="9.9" fill="#3c3c3c" textLength="14.9" lengthAdjust="spacingAndGlyphs">W1</text>
<text x="1196.3" y="10.9" font-size="9.9" fill="#3c3c3c" textLength="15.3" lengthAdjust="spacingAndGlyphs">MN</text>
<line x1="1686.8" y1="7.9" x2="1682.4" y2="11.6" stroke="#1f56cc" stroke-width="2.4" stroke-linecap="round"/>
<circle cx="1689.6" cy="4.2" r="4" fill="#fdfdff" stroke="#2a62d4" stroke-width="1.3"/>
<path d="M1722.1 -0.4c-4 0-6.7 2-6.7 4.4s2.7 4.4 6.7 4.4c0.6 0 1.2 0 1.8-0.2l1.6 2.2-0.2-2.6c2.2-0.8 3.5-2.2 3.5-3.8 0-2.4-2.7-4.4-6.7-4.4z" fill="#f2f2f6" stroke="#8e8e8e" stroke-width="0.9"/>
<path d="M1713.3 4.5c-3 0-5 1.7-5 3.8 0 1.4 1 2.6 2.6 3.2l-0.3 2 1.8-1.6c0.3 0 0.6 0 0.9 0 3 0 5-1.6 5-3.6 0-2.1-2-3.8-5-3.8z" fill="#f0f0f4" stroke="#8e8e8e" stroke-width="0.9"/>
<path d="M77.6 1.5h4.6M79.9 0v1.5M77 4.5h6.2M78.4 2.4l0.5 1.6M81.6 2.4l-0.5 1.6M77.4 6.6h5.4M80 4.5V10.6l-1 0M78.2 8l-1 1.6M81.8 8l1 1.4" stroke="#000" stroke-width="1.2" fill="none"/>
<path d="M88.4 0.8l-4 1.2M84.3 1.8V7c0 2-0.4 3-1 3.8M84.4 4.6h5.2M86.4 4.8v5.8" stroke="#000" stroke-width="1.2" fill="none"/>
<path d="M90.6 0.8l1 1.2M89.8 4.5h1.6v4.8l2-1.8M93.4 1.5h7.6M97.2 1.5V10.5h-2.6" stroke="#000" stroke-width="1.2" fill="none"/>
<path d="M103.8 -0.5l0.8 1.8M110.4 -0.5l-0.8 1.8M102.6 2.4h8.8v4h-8.8zM102.6 4.5h8.8M107 2.4V11M100.9 8.6h12.2" stroke="#000" stroke-width="1.2" fill="none"/>
<path d="M230.5 -1V10.6M239 -1V10.6M230.5 1.3h8.5M230.5 4.2h8.5M230.5 7h8.5M230.5 9.8h8.5" stroke="#000" stroke-width="1.2" fill="none"/>
<path d="M242.2 1.3h4.2M241.6 4.2h5.4M244.4 4.6l-1.8 4.8 4.2-0.6M245.6 6.8l1.2 3" stroke="#000" stroke-width="1.2" fill="none"/>
<path d="M247.2 2.6h5.8M248.8 -1c0 5-0.4 9-1.8 11.6M251.6 2.6c0 4 0 6.4-0.4 8h-1.6" stroke="#000" stroke-width="1.2" fill="none"/>
<path d="M258.6 -0.5l0.6 1.4M253.6 2.4h11M256 4.4l-1.6 2.4M262.2 4.4l1.8 2.4M256.6 4.6c1.4 3 3.6 5 6.8 6M261.6 4.6c-1.4 3-4 5-7.8 6" stroke="#000" stroke-width="1.2" fill="none"/>
<path d="M267.4 -1V4.4h7.8V-1M267.4 2.2h7.8M266.6 5.6h9.2c0 2.4-0.2 4-0.5 5.1h-2.4M268.4 6.2l-2.8 2M271.2 6.4l-4.8 3.6M273.8 6.6l-4.6 4" stroke="#000" stroke-width="1.2" fill="none"/>
</g></g>
</svg></body></html>
